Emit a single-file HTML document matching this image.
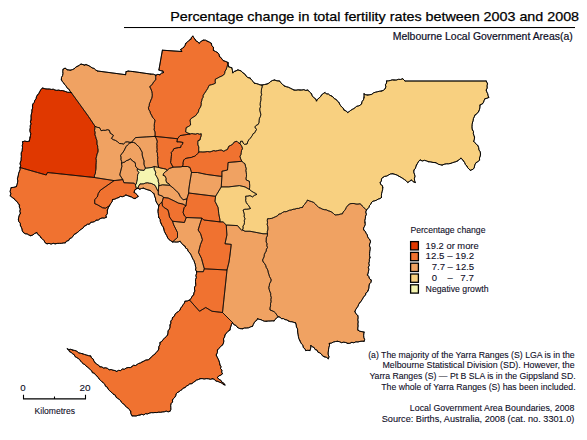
<!DOCTYPE html>
<html><head><meta charset="utf-8">
<style>
html,body{margin:0;padding:0;background:#fff;}
body{width:587px;height:440px;overflow:hidden;}
svg{display:block;}
text{font-family:"Liberation Sans",sans-serif;}
</style></head><body>
<svg width="587" height="440" viewBox="0 0 587 440">
<rect width="587" height="440" fill="#fff"/>
<text x="170.2" y="20.8" font-size="13.6" fill="#000" stroke="#000" stroke-width="0.25" textLength="408.9" lengthAdjust="spacingAndGlyphs">Percentage change in total fertility rates between 2003 and 2008</text>
<rect x="124" y="27" width="451" height="1.05" fill="#000"/>
<text x="392.8" y="40" font-size="10.5" fill="#0d0d26" stroke="#0d0d26" stroke-width="0.2" textLength="179.9" lengthAdjust="spacingAndGlyphs">Melbourne Local Government Areas(a)</text>
<g stroke="none">
<polygon fill="#E03800" points="71.2,92.5 69.37,92.4 67.55,92.28 65.81,91.62 64.06,91.01 62.28,90.56 60.43,90.6 58.67,90.1 56.78,90.38 54.99,90.04 53.28,89.2 51.39,89.44 49.62,89.02 47.78,88.99 45.94,88.92 44.16,88.54 42.4,88 40.94,89.58 39.82,91.41 38.86,93.35 37.5,95 36.43,96.72 36.09,98.78 34.75,100.38 34.3,102.39 32.84,103.94 32.5,106 32.65,108.04 31.87,109.98 31.94,112.01 31.36,113.97 31.01,115.96 31.08,117.99 31,120 30.33,121.91 31.09,123.91 30.21,125.81 30.35,127.77 29.87,129.69 30.03,131.65 30.77,133.64 30.47,135.58 30,137.5 29.4,141 27.14,141.59 24.75,141.07 22.5,141.8 22.75,143.68 22.27,145.48 22.5,147.36 22.29,149.19 22.18,151.03 21.24,152.8 21.22,154.65 21.39,156.52 21.13,158.34 21.14,160.2 20.46,161.99 20.04,163.8 20.68,165.71 20,167.5 37.5,172.5 46.25,175 47.5,172.5 94.4,177.5 94.44,175.36 95.42,173.36 95.56,171.23 95.91,169.13 96,167 96.03,164.85 96.21,162.7 96.3,160.55 96,158.4 96.61,156.27 97.03,154.09 97.95,152.04 98.1,149.8 97.67,147.92 97.69,145.98 96.92,144.15 97,142.2 96.82,140.21 96.08,138.37 95.58,136.46 94.9,134.6 95.13,132.51 94.52,130.42 94.85,128.34 95,126.25 88.4,116.3 79.8,104.4"/>
<polygon fill="#F0A262" points="71.2,92.5 69.91,91.22 69.26,89.45 67.55,88.49 66.6,86.95 65.66,85.41 64.27,84.2 63.45,82.56 62.07,81.35 61.4,79.6 61.49,77.48 62.59,75.52 62.92,73.44 62.74,71.28 63.1,69.2 65.1,68.2 67.2,69.7 70.2,70.2 72.32,69.65 74.3,68.7 75.84,67.05 77.9,66.1 79.47,65.14 81,64.1 83,64.6 84.5,65.1 86,64.6 88.6,65.6 90.42,66.61 92.08,67.89 94.17,68.46 95.69,69.98 97.5,71 125.6,74.7 126.1,71.6 128.2,71.1 130.75,71.33 133.3,71.6 140.4,72.6 150.7,74.1 153.35,74.19 155.8,75.2 155.66,77.5 155.8,79.8 153.85,81.61 152.5,83.9 151.32,85.48 149.7,86.6 150.86,88.9 151.8,91.3 152.21,93.6 152.25,95.9 151.8,98.2 150.87,100.01 150.28,101.94 149.36,103.76 149.23,105.85 148.4,107.7 148.79,109.63 149.94,111.29 150.4,113.2 151.55,115.15 152.5,117.2 153.7,118.65 155,120 154.77,121.87 154.38,123.72 154.24,125.6 154.4,127.5 154.13,129.75 155.03,131.93 155.15,134.15 155,136.4 146.25,136.9 135.5,137.6 131.4,142.4 129.5,142.24 127.62,141.8 125.7,142 123.6,144 121.56,143.63 119.5,143.5 117.58,141.77 115.4,140.4 113.27,139.65 111.4,138.4 112.5,136.91 113.4,135.3 111.91,134.2 110.3,133.3 109.3,130.2 107.3,129.7 105.29,130.4 103.15,130.26 101.1,130.7 99.6,127.7 97.2,127.3 95,126.25 88.4,116.3 79.8,104.4"/>
<polygon fill="#F0A262" points="95,126.25 97.2,127.3 99.6,127.7 101.1,130.7 103.15,130.26 105.29,130.4 107.3,129.7 109.3,130.2 110.3,133.3 111.91,134.2 113.4,135.3 112.5,136.91 111.4,138.4 113.27,139.65 115.4,140.4 117.58,141.77 119.5,143.5 121.56,143.63 123.6,144 125.7,142 127.62,141.8 129.5,142.24 131.4,142.4 129.23,143.37 127.5,145 126.16,146.52 125.2,148.3 124.31,150.24 123.17,152.03 121.86,153.69 120.6,155.4 121.01,157.4 120.91,159.47 121.67,161.43 121.5,163.5 121.9,166.25 120,173.75 119.8,175 122.8,179.6 114.1,180.6 94.4,177.5 94.44,175.36 95.42,173.36 95.56,171.23 95.91,169.13 96,167 96.03,164.85 96.21,162.7 96.3,160.55 96,158.4 96.61,156.27 97.03,154.09 97.95,152.04 98.1,149.8 97.67,147.92 97.69,145.98 96.92,144.15 97,142.2 96.82,140.21 96.08,138.37 95.58,136.46 94.9,134.6 95.13,132.51 94.52,130.42 94.85,128.34"/>
<polygon fill="#F07230" points="20,167.5 37.5,172.5 46.25,175 47.5,172.5 94.4,177.5 114.1,180.6 100.3,190.3 98.3,193.4 97.3,197 94.7,199.5 94.7,203.6 97.3,204.7 102.4,207.7 105.4,208.2 109.5,205.7 108.29,207.82 107.4,210.1 107.38,211.94 107.32,213.77 106,215.41 106.3,217.3 104.32,218.11 102.07,217.98 100.07,218.72 98.25,220.08 96.1,220.3 94.6,221.55 92.76,222.13 90.73,222.32 89.53,224.16 87.45,224.26 85.9,225.4 84.19,226.26 83.16,227.96 81.6,229 80.01,230.01 78.75,231.42 77.29,232.59 75.7,233.6 73.95,234.6 72.96,236.45 71.5,237.79 69.64,238.66 68.7,240.57 66.54,241.12 65.4,242.8 63.36,242.99 61.34,243.37 59.28,243.37 57.22,243.43 55.2,243.8 53.15,243.32 51.1,244.1 49.05,243.37 47,243.8 45.06,242.69 44.05,240.65 42.56,239.09 40.9,237.7 39.85,235.75 37.92,234.5 36.8,232.6 34.69,233.48 32.89,234.98 30.7,235.7 28.86,235.03 27.18,233.95 25.14,233.74 23.5,232.6 22.31,230.98 21.99,228.98 21.27,227.16 20.4,225.4 20.28,223.19 18.71,221.45 18.4,219.3 18.71,217.15 19.35,215.11 20.4,213.2 19.77,211.2 20.34,209.05 19.34,207.09 19.4,205 18.19,203.42 17.16,201.69 15.44,200.54 14.3,198.9 12.18,197.45 10.2,195.8 10.87,193.8 10.12,191.63 10.53,189.6 11.2,187.6 13.84,187.33 16.4,186.6 16.95,184.73 17.48,182.85 17.77,180.92 17.39,178.88 17.87,176.99 18.37,175.1 18.65,173.18 19.42,171.35 20.06,169.49"/>
<polygon fill="#F07230" points="114.1,180.6 100.3,190.3 98.3,193.4 97.3,197 94.7,199.5 94.7,203.6 97.3,204.7 102.4,207.7 105.4,208.2 109.5,205.7 110.61,203.67 112.06,201.82 112.6,199.5 114.74,199.17 116.69,198.25 118.7,197.5 120.35,196.45 122.46,196.7 124.26,196.09 125.9,195 127.94,195.78 130,196.5 131.73,197.1 133.25,198.22 135.1,198.5 136.67,197.53 138.2,196.5 137.15,194.82 135.76,193.47 134.1,192.4 134.8,190 136.4,188.8 135.3,184.5 134.1,183.2 123.9,182.7 122.8,179.6"/>
<polygon fill="#F0A262" points="131.4,142.4 133.47,142.44 135.4,143.2 136.6,144.73 138.07,145.99 139.5,147.3 140.34,149.03 141.34,150.68 142.2,152.4 142.2,155 143,158 144.1,161 143.93,162.85 144.1,164.7 144.69,166.45 145.5,168.1 144.1,170.4 140,170 137.7,168.9 135.5,166.2 135.47,164.33 135.1,162.5 132.5,161 130.6,158.7 128,160.2 126.22,160.72 124.84,162.03 123.06,162.54 121.5,163.5 121.67,161.43 120.91,159.47 121.01,157.4 120.6,155.4 121.86,153.69 123.17,152.03 124.31,150.24 125.2,148.3 126.16,146.52 127.5,145 129.23,143.37"/>
<polygon fill="#F0A262" points="121.5,163.5 123.06,162.54 124.84,162.03 126.22,160.72 128,160.2 130.6,158.7 132.5,161 135.1,162.5 135.47,164.33 135.5,166.2 137.7,168.9 137,170 138.9,172.6 137.7,174.5 137.46,176.74 137.4,179 136.77,181.59 136.2,184.2 135.3,184.5 134.1,183.2 123.9,182.7 122.8,179.6 119.8,175 120,173.75 121.9,166.25"/>
<polygon fill="#F0A262" points="155,136.4 146.25,136.9 135.5,137.6 131.4,142.4 133.47,142.44 135.4,143.2 136.6,144.73 138.07,145.99 139.5,147.3 140.34,149.03 141.34,150.68 142.2,152.4 142.2,155 143,158 144.1,161 143.93,162.85 144.1,164.7 144.69,166.45 145.5,168.1 146.7,168.1 152,167.4 154.2,166.5 158.7,167.4 158,164.7 157.72,162.11 157.6,159.5 157.81,157.43 157.4,155.4 157.49,153.36 156.75,151.37 157.18,149.32 156.9,147.3 157,145.5 156.79,143.7 157.31,141.9 156.9,140.1 156.11,138.17"/>
<polygon fill="#F5F5B0" points="137.7,168.9 140,170 144.1,170.4 145.5,168.1 146.7,168.1 152,167.4 154.2,166.5 154.2,169.2 155.7,172.2 155.4,174.5 157.2,177.5 158.15,179.44 158.3,181.6 158.88,183.66 158.7,185.8 158.3,191.4 156.9,189.1 156.03,187.16 155,185.3 153.12,184.31 151.2,183.4 149.34,183.23 147.49,182.78 145.6,183 143.8,183.74 141.92,183.91 140,183.9 138.73,185.96 137.8,188.2 136.4,188.8 135.3,184.5 136.2,184.2 136.77,181.59 137.4,179 137.46,176.74 137.7,174.5 138.9,172.6 137,170"/>
<polygon fill="#F8D080" points="154.2,166.5 158.7,167.4 161,168.1 163.2,168.5 166.2,169.2 167.2,170.3 165.35,171.74 163.7,173.4 163,175.3 164.9,175.9 166.1,178.3 165.97,180.51 166.7,182.6 169,183.8 169.8,185.3 162.5,184.8 158.7,185.8 158.88,183.66 158.3,181.6 158.15,179.44 157.2,177.5 155.4,174.5 155.7,172.2 154.2,169.2"/>
<polygon fill="#F0A262" points="140,183.9 141.92,183.91 143.8,183.74 145.6,183 147.49,182.78 149.34,183.23 151.2,183.4 153.12,184.31 155,185.3 156.03,187.16 156.9,189.1 158.3,191.4 158.3,194.7 162.5,196.1 163.4,197.5 162,202.2 159.7,204 158.7,205.9 157.57,204.04 156.4,202.2 155.67,200.37 155.5,198.4 154.58,196.1 154,193.7 152.02,192.25 150.3,190.5 147.98,189.9 145.71,189.15 143.5,188.2 141.59,188.46 139.8,189.2 137.8,188.2 138.73,185.96"/>
<polygon fill="#F0A262" points="158.7,185.8 162.5,184.8 169.8,185.3 173.2,188 176.5,191.2 178.4,192.8 180.3,196.6 183.1,199.8 186.9,198.9 185.9,205.9 183.1,204.1 178.4,203.1 174.7,201.2 168.1,198 163.4,197.5 162.5,196.1 158.3,194.7 158.3,191.4"/>
<polygon fill="#F07230" points="155,136.4 166,137.5 177.5,138.75 176.9,141.9 178.96,141.8 180.99,142.06 183,142.5 182.43,144.28 181.07,145.68 180.6,147.5 178.27,147.63 176,148.13 173.75,148.75 172.81,150.83 171.25,152.5 171.54,154.53 171.31,156.52 171.08,158.51 170.82,160.51 170.6,162.5 171.9,165 173.1,167.2 169.2,168.5 167.2,170.3 166.2,169.2 163.2,168.5 161,168.1 158.7,167.4 158,164.7 157.72,162.11 157.6,159.5 157.81,157.43 157.4,155.4 157.49,153.36 156.75,151.37 157.18,149.32 156.9,147.3 157,145.5 156.79,143.7 157.31,141.9 156.9,140.1 156.11,138.17"/>
<polygon fill="#F07230" points="155.8,75.2 157.78,74.36 159.9,74.7 161.43,73.18 163.5,72.6 162.9,71.1 160.85,70.74 158.9,70 162.4,50.2 181.7,51.5 180.7,49.4 182.23,48.44 183.7,47.4 185.01,45.48 185.8,43.3 187.52,41.96 189.01,40.34 190.9,39.2 191.43,37.35 192.9,36.1 193.81,37.75 195,39.2 195.97,40.96 197.86,41.81 199.1,43.3 200.95,41.49 203.2,40.2 205.38,40.15 207.3,41.2 209.37,42.11 211.3,43.3 211.83,45.61 213.4,47.4 213.4,50.4 215.46,51.44 217.5,52.5 219.01,54.3 219.5,56.6 221.12,57.71 222.11,59.45 223.6,60.7 225.83,61.52 228,62.5 227.65,64.29 227.3,66.07 226.7,67.8 226.08,69.67 224.97,71.32 224.7,73.34 223.6,75 221.62,76.14 219.5,77 217.51,78.16 215.4,79.1 215.18,81.15 215.4,83.2 213.45,84.12 211.39,84.72 209.3,85.2 208.37,86.95 207.56,88.77 206.44,90.41 205.38,92.09 204.24,93.72 203.2,95.4 203.13,97.25 202.12,98.87 201.76,100.64 201.19,102.37 201.27,104.26 200.89,106.03 200.1,107.7 198.83,109.61 198.4,111.95 197,113.8 195.55,115.73 193.5,117 191.52,118.23 190,120 190.41,122.49 190.6,125 188.54,126.46 186.25,127.5 185.89,129.69 185.6,131.9 187.79,132.97 190,134 180,135.6 177.5,138.75 166,137.5 155,136.4 155.15,134.15 155.03,131.93 154.13,129.75 154.4,127.5 154.24,125.6 154.38,123.72 154.77,121.87 155,120 153.7,118.65 152.5,117.2 151.55,115.15 150.4,113.2 149.94,111.29 148.79,109.63 148.4,107.7 149.23,105.85 149.36,103.76 150.28,101.94 150.87,100.01 151.8,98.2 152.25,95.9 152.21,93.6 151.8,91.3 150.86,88.9 149.7,86.6 151.32,85.48 152.5,83.9 153.85,81.61 155.8,79.8 155.66,77.5"/>
<polygon fill="#F07230" points="177.5,138.75 180,135.6 190,134 191.87,133.55 193.75,133.89 195.63,134.11 197.49,133.5 199.38,134.22 201.25,133.75 201.16,135.9 200.41,137.92 200,140 198,140.6 197.81,142.75 197.89,144.89 198.81,146.96 198.68,149.11 198.75,151.25 198.75,152 197.65,153.62 196.25,155 194.78,156.23 192.93,156.7 191.25,157.5 189.12,157.7 187.03,158.08 185,158.75 183.75,160 183.1,162.5 183.03,164.54 182.5,166.5 180.6,166.9 173.1,167.2 171.9,165 170.6,162.5 170.82,160.51 171.08,158.51 171.31,156.52 171.54,154.53 171.25,152.5 172.81,150.83 173.75,148.75 176,148.13 178.27,147.63 180.6,147.5 181.07,145.68 182.43,144.28 183,142.5 180.99,142.06 178.96,141.8 176.9,141.9"/>
<polygon fill="#F8D080" points="228,62.5 228.24,64.67 228.7,66.8 231.8,67.8 232.42,70.33 232.8,72.9 234.08,71.48 235.9,70.9 237.9,69.9 241,70.9 243,72.9 244.9,74.1 246.1,76 247.88,77.57 250.2,78.1 251.46,79.89 253.05,81.4 254.3,83.2 256.25,83.56 258.15,84.09 260,84.86 262,85 262.24,86.98 261.52,88.89 261.36,90.84 261.22,92.79 261.67,94.78 260.76,96.67 260.98,98.65 260.8,100.6 260.34,102.62 260.17,104.66 260.55,106.75 259.73,108.73 259.9,110.8 260.8,114.2 260.51,116.3 259.48,118.21 259.17,120.3 259.04,122.44 258.2,124.4 256.23,125.34 254.8,127 256.5,129.5 255.56,131.08 254.76,132.75 253.03,133.77 252.3,135.5 251.24,136.96 250.18,138.42 248.9,139.7 247.73,141.74 247.1,144 244.4,144.4 243.09,143.04 242.5,141.25 240.6,141.25 240,143.75 238.3,142.68 236.9,141.25 234.4,141.9 232.5,144.4 230.66,145.39 228.75,146.25 227.5,149.4 225.57,150.22 223.75,151.25 221.25,150 219.36,150.23 217.5,150.6 215.62,151.03 213.75,150.6 211.88,151.28 210,151.9 207.5,151.54 205,151.9 202.92,152.01 200.83,151.89 198.75,152 198.75,151.25 198.68,149.11 198.81,146.96 197.89,144.89 197.81,142.75 198,140.6 200,140 200.41,137.92 201.16,135.9 201.25,133.75 199.38,134.22 197.49,133.5 195.63,134.11 193.75,133.89 191.87,133.55 190,134 187.79,132.97 185.6,131.9 185.89,129.69 186.25,127.5 188.54,126.46 190.6,125 190.41,122.49 190,120 191.52,118.23 193.5,117 195.55,115.73 197,113.8 198.4,111.95 198.83,109.61 200.1,107.7 200.89,106.03 201.27,104.26 201.19,102.37 201.76,100.64 202.12,98.87 203.13,97.25 203.2,95.4 204.24,93.72 205.38,92.09 206.44,90.41 207.56,88.77 208.37,86.95 209.3,85.2 211.39,84.72 213.45,84.12 215.4,83.2 215.18,81.15 215.4,79.1 217.51,78.16 219.5,77 221.62,76.14 223.6,75 224.7,73.34 224.97,71.32 226.08,69.67 226.7,67.8 227.3,66.07 227.65,64.29"/>
<polygon fill="#F07230" points="198.75,152 200.83,151.89 202.92,152.01 205,151.9 207.5,151.54 210,151.9 211.88,151.28 213.75,150.6 215.62,151.03 217.5,150.6 219.36,150.23 221.25,150 223.75,151.25 225.57,150.22 227.5,149.4 228.75,146.25 230.66,145.39 232.5,144.4 234.4,141.9 236.9,141.25 238.3,142.68 240,143.75 241.16,145.25 242.01,146.91 242.5,148.75 241.52,150.51 241.25,152.5 240.96,154.49 240,156.25 240.66,158.86 241.9,161.25 235,161.9 228.1,162.5 227.5,170 221.9,171.25 221.9,176.25 220,176.25 206.25,174.4 197.5,172.5 191.5,172.5 190,167.5 187.5,166.5 182.5,166.5 183.03,164.54 183.1,162.5 183.75,160 185,158.75 187.03,158.08 189.12,157.7 191.25,157.5 192.93,156.7 194.78,156.23 196.25,155 197.65,153.62"/>
<polygon fill="#F0A262" points="241.9,161.25 243.36,162.61 245,163.75 245.51,166.28 246.25,168.75 245.89,170.62 246.27,172.5 246.47,174.38 246.49,176.25 246.03,178.12 246.25,180 249.4,181.25 249.52,183.29 249.7,185.32 249.63,187.36 249.4,189.4 245,186.9 239.4,185.6 228.75,186.9 221.25,186.9 221.9,176.25 221.9,171.25 227.5,170 228.1,162.5 235,161.9"/>
<polygon fill="#F0A262" points="191.5,172.5 197.5,172.5 206.25,174.4 220,176.25 221.9,176.25 221.25,186.9 219.4,190 215.6,196.25 215,196.25 188.7,193 188.7,190 190,181.25"/>
<polygon fill="#F0A262" points="173.1,167.2 180.6,166.9 182.5,166.5 187.5,166.5 190,167.5 191.5,172.5 190,181.25 188.7,190 188.7,193 186.9,198.9 183.1,199.8 180.3,196.6 178.4,192.8 176.5,191.2 173.2,188 169.8,185.3 169,183.8 166.7,182.6 165.97,180.51 166.1,178.3 164.9,175.9 163,175.3 163.7,173.4 165.35,171.74 167.2,170.3 169.2,168.5"/>
<polygon fill="#F07230" points="163.4,197.5 168.1,198 174.7,201.2 178.4,203.1 183.1,204.1 185.9,205.9 184,207.8 183.1,212.5 184.5,216 186.25,217.5 184.4,222.5 172.5,221.25 169.5,217 168.8,213 167.8,209.7 164.4,207.8 162.5,205.9 162,202.2"/>
<polygon fill="#F07230" points="158.7,205.9 159.7,204 162,202.2 162.5,205.9 164.4,207.8 167.8,209.7 168.8,213 169.5,217 172.5,221.25 173.75,225 177.5,232.5 177.5,237.5 172.5,241.9 170.61,240.68 168.79,239.4 167.5,237.5 166.68,235.56 165.6,233.75 164.36,231.37 163.75,228.75 163.2,226.94 162,225.46 161.25,223.75 160.33,221.7 160.12,219.37 158.75,217.5 158.51,215.63 158.33,213.76 157.98,211.9 158.1,210 158.44,207.96"/>
<polygon fill="#F0A262" points="172.5,221.25 184.4,222.5 186.25,217.5 201.9,218.1 200,223.75 198.1,230 200.6,233.75 202.4,239.8 200.4,244.7 198.5,252.4 201.4,258.2 204.3,268.8 203.3,271.7 196.6,271.7 195.6,269.7 195.89,267.81 195.43,266.04 195.22,264.23 194.5,262.5 193.98,260.68 192.92,259.12 192.16,257.42 191.42,255.71 190.57,254.05 189.5,252.5 188.01,251.2 187.59,249.13 185.68,248.14 185,246.25 183.01,244.91 181.48,243.1 180,241.25 178.17,241.96 176.3,242.1 174.39,241.96 172.5,241.9 177.5,237.5 177.5,232.5 173.75,225"/>
<polygon fill="#F07230" points="201.9,218.1 203.75,220 220,221.9 223.1,221.9 226.25,225 226.9,235 225,243.75 231.25,244.4 230,255 229,262 227,270 204.3,268.8 201.4,258.2 198.5,252.4 200.4,244.7 202.4,239.8 200.6,233.75 198.1,230 200,223.75"/>
<polygon fill="#F07230" points="186.9,198.9 188.7,193 215,196.25 215.6,196.25 215,201.25 218.1,207.5 218.75,213.75 220,220 220,221.9 203.75,220 201.9,218.1 186.25,217.5 184.5,216 183.1,212.5 184,207.8 185.9,205.9"/>
<polygon fill="#F8D080" points="221.25,186.9 228.75,186.9 239.4,185.6 245,186.9 249.4,189.4 251.47,191.1 253.75,192.5 255.42,193.29 256.9,194.4 254.51,195.31 252.5,196.9 250,195.6 247.83,196.1 245.6,196.25 245.84,198.33 245.64,200.46 246.25,202.5 247.23,204.06 248.56,205.37 249.47,206.98 250.5,208.5 248.67,209 246.8,209.24 244.87,209.22 243.1,210 243.71,212.16 244.33,214.32 244.14,216.65 245,218.75 244.3,220.56 244.48,222.57 244.11,224.46 242.97,226.17 243.17,228.18 242.5,230 241.9,230.6 237.5,225.6 226.25,225 223.1,221.9 220,221.9 220,220 218.75,213.75 218.1,207.5 215,201.25 215.6,196.25 219.4,190"/>
<polygon fill="#F8D080" points="262,85 264.51,84.55 267,84 268.95,83.13 270.54,81.61 272.37,80.53 274.5,80 276.94,80.81 279.5,81 280.99,82.84 282.6,84.57 284.5,86 286.43,86.73 288.45,87.25 290.3,88.16 292.14,89.09 294,90 296,90.19 298,89.82 300,90 301.94,90.01 303.88,89.65 305.81,90.47 307.75,90 309.54,91.96 311.5,93.75 312.28,95.89 313.7,97.58 315.69,98.89 316.5,101 317.49,99.29 319.04,98.03 320.5,96.71 321.5,95 323.17,93.64 325,92.5 326.34,93.9 328.39,93.98 329.82,95.24 331.5,96 333.18,97.09 334.4,98.71 336.34,99.51 337.46,101.24 339,102.5 339.69,104.2 340.7,105.7 341.82,107.12 343.33,108.28 344,110 346.06,110.98 347.75,112.5 349.28,111.53 350.7,110.39 352.22,109.4 353.84,108.58 355.29,107.48 356.69,106.31 358.56,105.88 360.29,105.21 361.5,103.75 362.07,101.56 363.47,99.71 364,97.5 364.05,95.62 364,93.75 365.74,94.78 367.75,95 369.8,94.73 371.81,94.32 373.52,92.86 375.46,92.22 377.45,91.72 379.45,91.28 381.5,91 383.55,90.34 385,88.75 385.89,86.91 385.39,84.8 386.61,83.03 386.5,81 388.39,80.84 390.25,80.53 392.07,79.85 394,80 396.24,80.06 398.37,79.32 400.62,79.44 402.75,78.75 405,81 486.25,81 487.5,83.75 487.07,85.83 487.22,88.03 486.25,90 486.75,91.92 487.69,93.69 488.07,95.64 488.75,97.5 486.92,98.27 485,98.75 484.11,100.39 483.57,102.2 482.5,103.75 480,105 479.93,107.15 479.55,109.24 478.75,111.25 477.21,113.46 475,115 474.27,116.84 473.4,118.63 473.16,120.64 472.5,122.5 472.17,124.38 472.04,126.25 472.06,128.12 472.5,130 473.52,131.6 473.34,133.55 473.85,135.29 474.5,137 474.39,139.2 473.7,141.3 475.06,142.78 476.32,144.34 477.9,145.6 478.67,147.66 478.91,149.89 480.24,151.78 480.5,154 480.31,156.02 479.47,157.94 479.6,160 478.07,161.52 476.2,162.6 475.11,164.18 474.54,166.02 474.18,167.97 472.8,169.4 470.3,170.3 468.94,169.02 467.67,167.67 466.8,166 465.39,164.48 464.62,162.54 463.4,160.9 462.4,159.36 460.9,158.3 459.23,159.64 457.5,160.9 455.86,161.69 454.11,162.19 452.39,162.74 450.7,163.4 448.55,163.8 446.31,163.81 444.17,164.27 442.1,165.1 440.32,164.69 438.53,164.32 436.97,163.3 435.3,162.6 433.01,162.45 430.78,161.93 428.5,161.7 426.51,160.91 424.48,160.34 422.2,160.97 420.25,160 418.58,161.35 417.6,163.22 416.5,165 415.9,166.78 415.27,168.55 414,170 413.72,172.13 414.45,174.16 415.02,176.21 414.42,178.37 414.59,180.46 415.25,182.5 413.07,181.7 411.5,180 409.63,181.26 407.75,182.5 406.27,180.87 404.52,179.62 402.74,178.42 400.92,177.26 399,176.25 397.06,175.07 394.93,174.35 392.75,173.75 390.54,173.95 388.65,174.98 386.78,176.07 384.62,176.39 382.75,177.5 381.45,178.93 381.38,180.98 380.25,182.5 380.58,184.42 382.41,185.59 382.75,187.5 382.63,189.52 382.16,191.49 381.62,193.45 381.41,195.46 381.5,197.5 379.96,198.58 378.14,199.12 376.57,200.14 374.82,200.8 372.93,201.19 371.5,202.5 370.78,204.19 369.52,205.52 368.97,207.31 367.84,208.73 366.5,210 365.24,208.71 363.77,207.64 362.49,206.36 361.46,204.83 360,203.75 358,204.1 356,204.06 354,203.51 352,203.49 350,203.75 347.83,205.33 346.25,207.5 345.52,209.19 344.43,210.66 343.14,212.01 342.5,213.75 340.62,214.02 338.79,214.64 336.89,214.8 335,215 333.51,213.51 331.88,212.21 330,211.25 328.09,210.72 326.32,209.8 324.28,209.65 322.38,209.11 320.61,208.18 318.75,207.5 317.08,205.84 315.48,204.1 313.75,202.5 311.68,201.64 309.52,200.99 307.5,200 306.67,201.61 305.55,203.03 304.52,204.51 303.2,205.8 302.5,207.5 300.55,207.58 298.78,208.45 296.8,208.41 294.99,209.13 293.06,209.29 291.25,210 289.43,210.25 287.75,210.99 286.07,211.74 284.15,211.67 282.5,212.5 280.86,213.7 278.79,214.12 277.46,215.86 275.6,216.68 273.75,217.5 271.75,218.36 269.64,218.63 267.5,218.75 267.29,220.62 267.56,222.5 267.14,224.38 267.72,226.25 267.9,228.12 267.79,230 267.2,231.88 267.5,233.75 263,233.75 250,231.25 245,231.25 242.5,230 243.17,228.18 242.97,226.17 244.11,224.46 244.48,222.57 244.3,220.56 245,218.75 244.14,216.65 244.33,214.32 243.71,212.16 243.1,210 244.87,209.22 246.8,209.24 248.67,209 250.5,208.5 249.47,206.98 248.56,205.37 247.23,204.06 246.25,202.5 245.64,200.46 245.84,198.33 245.6,196.25 247.83,196.1 250,195.6 252.5,196.9 254.51,195.31 256.9,194.4 255.42,193.29 253.75,192.5 251.47,191.1 249.4,189.4 249.63,187.36 249.7,185.32 249.52,183.29 249.4,181.25 246.25,180 246.03,178.12 246.49,176.25 246.47,174.38 246.27,172.5 245.89,170.62 246.25,168.75 245.51,166.28 245,163.75 243.36,162.61 241.9,161.25 240.66,158.86 240,156.25 240.96,154.49 241.25,152.5 241.52,150.51 242.5,148.75 242.01,146.91 241.16,145.25 240,143.75 240.6,141.25 242.5,141.25 243.09,143.04 244.4,144.4 247.1,144 247.73,141.74 248.9,139.7 250.18,138.42 251.24,136.96 252.3,135.5 253.03,133.77 254.76,132.75 255.56,131.08 256.5,129.5 254.8,127 256.23,125.34 258.2,124.4 259.04,122.44 259.17,120.3 259.48,118.21 260.51,116.3 260.8,114.2 259.9,110.8 259.73,108.73 260.55,106.75 260.17,104.66 260.34,102.62 260.8,100.6 260.98,98.65 260.76,96.67 261.67,94.78 261.22,92.79 261.36,90.84 261.52,88.89 262.24,86.98"/>
<polygon fill="#F0A262" points="242.5,230 245,231.25 250,231.25 263,233.75 267.5,233.75 267.34,235.88 266.28,237.84 266.25,240 266.15,241.94 267.04,243.72 266.8,245.69 267.5,247.5 266.41,249.13 266.21,251.13 265.16,252.78 264.33,254.52 264.15,256.52 263.41,258.29 262.5,260 263.22,261.99 264.65,263.61 265.68,265.44 266.25,267.5 267.33,269.14 268.01,270.94 268.35,272.87 268.99,274.69 269.5,276.56 270.48,278.24 271.25,280 270.64,281.88 269.59,283.61 269.32,285.61 268.75,287.5 269.19,289.51 269.82,291.48 270.66,293.4 270.65,295.53 271.25,297.5 270.87,299.57 271.1,301.69 270.49,303.74 270.58,305.85 270,307.9 270,310 272.09,310.76 274.1,311.7 275.7,313.21 276.88,315.06 278.2,316.8 276.56,317.89 275.34,319.4 274.1,320.9 272.13,320.83 270.17,321.02 268.21,321.04 266.25,321.25 264.38,321.18 262.66,320.58 261.02,319.67 259.22,319.35 257.5,318.75 256.73,320.4 255.06,321.45 254.07,322.96 253.28,324.6 252.5,326.25 250.54,326.89 248.63,327.77 246.56,328 244.44,328.02 242.5,328.75 239.88,328.61 237.5,327.5 236.12,325.55 233.76,324.58 232.5,322.5 222.5,312.5 227,270 229,262 230,255 231.25,244.4 225,243.75 226.9,235 226.25,225 237.5,225.6 241.9,230.6"/>
<polygon fill="#F0A262" points="267.5,218.75 269.64,218.63 271.75,218.36 273.75,217.5 275.6,216.68 277.46,215.86 278.79,214.12 280.86,213.7 282.5,212.5 284.15,211.67 286.07,211.74 287.75,210.99 289.43,210.25 291.25,210 293.06,209.29 294.99,209.13 296.8,208.41 298.78,208.45 300.55,207.58 302.5,207.5 303.2,205.8 304.52,204.51 305.55,203.03 306.67,201.61 307.5,200 309.52,200.99 311.68,201.64 313.75,202.5 315.48,204.1 317.08,205.84 318.75,207.5 320.61,208.18 322.38,209.11 324.28,209.65 326.32,209.8 328.09,210.72 330,211.25 331.88,212.21 333.51,213.51 335,215 336.89,214.8 338.79,214.64 340.62,214.02 342.5,213.75 343.14,212.01 344.43,210.66 345.52,209.19 346.25,207.5 347.83,205.33 350,203.75 352,203.49 354,203.51 356,204.06 358,204.1 360,203.75 361.46,204.83 362.49,206.36 363.77,207.64 365.24,208.71 366.5,210 365.68,212.01 366.43,214.22 365.5,216.22 365.38,218.32 364.82,220.37 365,222.5 365.24,224.47 364.56,226.28 363.53,228.04 363.75,230 365.29,231.35 366.07,233.19 367.24,234.77 367.66,236.83 368.72,238.48 370,240 370.59,241.94 369.66,243.89 369.45,245.83 370.25,247.78 370.1,249.72 369.74,251.67 369.58,253.61 369.57,255.56 370,257.5 369.36,259.39 369.39,261.38 368.8,263.28 369.35,265.34 368.3,267.18 368.87,269.24 368.51,271.18 368.15,273.11 367.5,275 368.85,276.58 369.49,278.69 371.2,280 371.1,282.19 369.45,283.92 369.03,286.01 368.85,288.18 368.2,290.2 367.46,291.93 365.81,293.05 365.57,295.11 364.02,296.29 363.1,297.9 362.19,299.52 361.21,301.09 360,302.5 358.74,304.21 358,306.2 356.79,307.94 355.6,309.68 354.9,311.7 356.17,313.92 357.9,315.8 358.12,317.84 357.77,319.89 358.19,321.93 357.89,323.97 358.08,326.01 357.75,328.06 357.9,330.1 359.81,331.25 361.96,331.67 364.1,332.1 363.75,333.94 363.67,335.78 363.86,337.62 364.62,339.46 364.1,341.3 362.03,341.2 359.98,341.43 357.96,341.98 355.88,341.82 353.9,342.78 351.8,342.4 349.85,343.32 347.7,343.4 345.75,342.53 343.69,342.2 341.47,342.67 339.54,341.72 337.5,341.3 335.38,341.55 333.33,342.08 331.41,343.12 329.3,343.4 329.55,345.34 328.9,347.22 328.59,349.12 328.4,351.02 328.13,352.93 328.28,354.86 329.02,356.83 328.3,358.7 326.43,357.33 324.2,356.7 322.46,355.75 321.36,354.05 319.8,352.89 317.9,352.13 317.06,350.13 315.04,349.51 314.17,347.54 312.25,346.81 310.9,345.4 310.73,348.06 309.9,350.6 307.85,350.31 305.8,350.6 304.91,348.81 303.27,347.46 302.97,345.32 301.51,343.87 300.5,342.14 299.7,340.3 298.83,338.56 298.44,336.72 298.13,334.85 297.78,333 297.6,331.1 297.6,328.93 296.43,327.04 296.22,324.92 295.6,322.9 293.81,322.37 292.04,321.76 290.14,321.61 288.4,320.9 286.82,319.92 284.97,319.61 283.41,318.58 281.39,318.69 280.05,317.11 278.2,316.8 276.88,315.06 275.7,313.21 274.1,311.7 272.09,310.76 270,310 270,307.9 270.58,305.85 270.49,303.74 271.1,301.69 270.87,299.57 271.25,297.5 270.65,295.53 270.66,293.4 269.82,291.48 269.19,289.51 268.75,287.5 269.32,285.61 269.59,283.61 270.64,281.88 271.25,280 270.48,278.24 269.5,276.56 268.99,274.69 268.35,272.87 268.01,270.94 267.33,269.14 266.25,267.5 265.68,265.44 264.65,263.61 263.22,261.99 262.5,260 263.41,258.29 264.15,256.52 264.33,254.52 265.16,252.78 266.21,251.13 266.41,249.13 267.5,247.5 266.8,245.69 267.04,243.72 266.15,241.94 266.25,240 266.28,237.84 267.34,235.88 267.5,233.75 267.2,231.88 267.79,230 267.9,228.12 267.72,226.25 267.14,224.38 267.56,222.5 267.29,220.62"/>
<polygon fill="#F07230" points="196.6,271.7 203.3,271.7 204.3,268.8 227,270 222.5,312.5 212,311.25 205.75,307.5 199.5,311.25 189.5,300 191.15,298.47 192,296.29 193.7,294.8 193.88,292.86 194.86,291.05 194.47,289.02 194.58,287.07 195.78,285.3 195.6,283.3 195.52,281.35 195.57,279.4 196.35,277.52 195.85,275.53 196.52,273.64"/>
<polygon fill="#F07230" points="189.5,300 199.5,311.25 205.75,307.5 212,311.25 222.5,312.5 232.5,322.5 231.55,324.27 230.95,326.15 230.3,328.02 230,330 227.97,331.3 226.43,333.1 225,335 224.58,337.02 223.46,338.87 223.82,341.08 223.45,343.11 222.5,345 220.6,346.43 219.12,348.28 217.5,350 217.35,352.62 216.25,355 217.09,356.97 218.1,358.87 218.98,360.82 219.59,362.87 220,365 221.02,366.6 220.5,368.64 222.02,370.1 221.61,372.11 222.5,373.75 220.92,375.12 218.85,375.83 217.5,377.5 218.79,379.21 220.79,380.21 221.9,382.1 223.83,383.17 225,385 223.06,384.42 221.6,382.88 219.66,382.3 217.88,381.38 215.8,381.07 214.44,379.34 212.5,378.75 210.42,379.29 208.33,378.76 206.25,378.64 204.17,379 202.08,378.57 200,378.75 198.33,379.58 196.5,380.09 195,381.25 193.42,382.43 191.86,383.64 189.71,383.91 188.2,385.2 186.47,386.14 185,387.5 183.25,388.13 182.07,389.6 180.49,390.48 179.11,391.67 177.5,392.5 176.16,393.77 175.76,395.68 174.88,397.25 173.48,398.49 172.5,400 172.6,401.99 171.09,403.62 170.68,405.5 170.8,407.49 170.84,409.47 170,411.25 168.16,411.84 166.21,411.12 164.38,411.75 162.51,411.94 160.65,412.3 158.75,412.17 156.89,412.57 155,412.5 153.11,412.73 151.16,412.61 149.33,413.16 147.53,413.94 145.56,413.67 143.84,414.94 141.81,414.29 140,415 138.04,415.32 136.11,415.99 134.11,415.95 132.1,415.9 130.89,413.75 130.6,411.3 129.53,409.77 128.39,408.31 126.7,407.4 125.43,406.07 124.4,404.5 122.76,403.54 121.43,402.27 120.55,400.55 119.15,399.35 117.57,398.33 116.06,397.24 115.42,395.28 113.7,394.4 112.25,393.12 110.86,391.79 109.4,390.52 108.12,389.09 107.32,387.21 105.52,386.26 104.81,384.3 103.43,382.95 101.9,381.76 100.57,380.36 99.14,379.07 98.18,377.34 96.8,376 95.43,374.79 94.38,373.24 92.38,372.71 91.68,370.76 90.27,369.61 88.95,368.34 87.55,367.16 86.05,366.1 84.95,364.59 83.2,363.79 81.89,362.52 80.68,361.13 79.66,359.54 78.18,358.45 76.6,357.47 74.97,356.54 74.23,354.65 72.5,353.84 71.33,352.41 69.5,351.7 68.71,349.86 67.2,348.8 68.89,349.53 70.8,349.3 72.5,350 74.61,350.46 76.68,351.01 78.32,352.72 80.41,353.24 82.5,353.75 84.51,354.44 86.55,355.06 88.59,355.67 90.7,356 91.46,357.84 93.21,359.01 93.83,360.94 95,362.5 96.49,364.1 98.5,365.1 99.9,366.8 101.88,366.9 103.57,368.05 105.65,367.79 107.49,368.39 109.11,369.81 111.18,369.56 113.01,370.21 114.93,370.54 116.7,371.4 118.49,370.39 120.65,370.57 122.26,369 124.44,369.24 126.17,368.04 128.1,367.48 130.25,367.61 132,366.5 133.46,365.29 135.57,365.53 137.1,364.48 138.65,363.47 140.42,362.94 142,362 143.97,361.07 145.89,360 148.21,359.84 150,358.5 151.44,356.75 153.19,355.34 155,354 156.29,352.36 157.75,350.85 158.75,349 158.76,346.76 159.92,344.73 160,342.5 161.9,341.4 163.03,339.53 164.6,338.1 166.21,336.71 167.5,335 167.96,332.99 168.02,330.88 169.41,329.1 170.04,327.14 170,325 170.87,323.21 170.73,321.08 172.15,319.47 172.5,317.5 174.29,316.29 175.13,314.13 176.58,312.58 178.47,311.47 180,310 180.71,308.08 182.02,306.51 183.05,304.78 184.33,303.19 185,301.25 187.34,300.95"/>
</g>
<g fill="none" stroke="#000" stroke-width="0.65" stroke-linejoin="round">
<polygon points="71.2,92.5 69.37,92.4 67.55,92.28 65.81,91.62 64.06,91.01 62.28,90.56 60.43,90.6 58.67,90.1 56.78,90.38 54.99,90.04 53.28,89.2 51.39,89.44 49.62,89.02 47.78,88.99 45.94,88.92 44.16,88.54 42.4,88 40.94,89.58 39.82,91.41 38.86,93.35 37.5,95 36.43,96.72 36.09,98.78 34.75,100.38 34.3,102.39 32.84,103.94 32.5,106 32.65,108.04 31.87,109.98 31.94,112.01 31.36,113.97 31.01,115.96 31.08,117.99 31,120 30.33,121.91 31.09,123.91 30.21,125.81 30.35,127.77 29.87,129.69 30.03,131.65 30.77,133.64 30.47,135.58 30,137.5 29.4,141 27.14,141.59 24.75,141.07 22.5,141.8 22.75,143.68 22.27,145.48 22.5,147.36 22.29,149.19 22.18,151.03 21.24,152.8 21.22,154.65 21.39,156.52 21.13,158.34 21.14,160.2 20.46,161.99 20.04,163.8 20.68,165.71 20,167.5 37.5,172.5 46.25,175 47.5,172.5 94.4,177.5 94.44,175.36 95.42,173.36 95.56,171.23 95.91,169.13 96,167 96.03,164.85 96.21,162.7 96.3,160.55 96,158.4 96.61,156.27 97.03,154.09 97.95,152.04 98.1,149.8 97.67,147.92 97.69,145.98 96.92,144.15 97,142.2 96.82,140.21 96.08,138.37 95.58,136.46 94.9,134.6 95.13,132.51 94.52,130.42 94.85,128.34 95,126.25 88.4,116.3 79.8,104.4"/>
<polygon points="71.2,92.5 69.91,91.22 69.26,89.45 67.55,88.49 66.6,86.95 65.66,85.41 64.27,84.2 63.45,82.56 62.07,81.35 61.4,79.6 61.49,77.48 62.59,75.52 62.92,73.44 62.74,71.28 63.1,69.2 65.1,68.2 67.2,69.7 70.2,70.2 72.32,69.65 74.3,68.7 75.84,67.05 77.9,66.1 79.47,65.14 81,64.1 83,64.6 84.5,65.1 86,64.6 88.6,65.6 90.42,66.61 92.08,67.89 94.17,68.46 95.69,69.98 97.5,71 125.6,74.7 126.1,71.6 128.2,71.1 130.75,71.33 133.3,71.6 140.4,72.6 150.7,74.1 153.35,74.19 155.8,75.2 155.66,77.5 155.8,79.8 153.85,81.61 152.5,83.9 151.32,85.48 149.7,86.6 150.86,88.9 151.8,91.3 152.21,93.6 152.25,95.9 151.8,98.2 150.87,100.01 150.28,101.94 149.36,103.76 149.23,105.85 148.4,107.7 148.79,109.63 149.94,111.29 150.4,113.2 151.55,115.15 152.5,117.2 153.7,118.65 155,120 154.77,121.87 154.38,123.72 154.24,125.6 154.4,127.5 154.13,129.75 155.03,131.93 155.15,134.15 155,136.4 146.25,136.9 135.5,137.6 131.4,142.4 129.5,142.24 127.62,141.8 125.7,142 123.6,144 121.56,143.63 119.5,143.5 117.58,141.77 115.4,140.4 113.27,139.65 111.4,138.4 112.5,136.91 113.4,135.3 111.91,134.2 110.3,133.3 109.3,130.2 107.3,129.7 105.29,130.4 103.15,130.26 101.1,130.7 99.6,127.7 97.2,127.3 95,126.25 88.4,116.3 79.8,104.4"/>
<polygon points="95,126.25 97.2,127.3 99.6,127.7 101.1,130.7 103.15,130.26 105.29,130.4 107.3,129.7 109.3,130.2 110.3,133.3 111.91,134.2 113.4,135.3 112.5,136.91 111.4,138.4 113.27,139.65 115.4,140.4 117.58,141.77 119.5,143.5 121.56,143.63 123.6,144 125.7,142 127.62,141.8 129.5,142.24 131.4,142.4 129.23,143.37 127.5,145 126.16,146.52 125.2,148.3 124.31,150.24 123.17,152.03 121.86,153.69 120.6,155.4 121.01,157.4 120.91,159.47 121.67,161.43 121.5,163.5 121.9,166.25 120,173.75 119.8,175 122.8,179.6 114.1,180.6 94.4,177.5 94.44,175.36 95.42,173.36 95.56,171.23 95.91,169.13 96,167 96.03,164.85 96.21,162.7 96.3,160.55 96,158.4 96.61,156.27 97.03,154.09 97.95,152.04 98.1,149.8 97.67,147.92 97.69,145.98 96.92,144.15 97,142.2 96.82,140.21 96.08,138.37 95.58,136.46 94.9,134.6 95.13,132.51 94.52,130.42 94.85,128.34"/>
<polygon points="20,167.5 37.5,172.5 46.25,175 47.5,172.5 94.4,177.5 114.1,180.6 100.3,190.3 98.3,193.4 97.3,197 94.7,199.5 94.7,203.6 97.3,204.7 102.4,207.7 105.4,208.2 109.5,205.7 108.29,207.82 107.4,210.1 107.38,211.94 107.32,213.77 106,215.41 106.3,217.3 104.32,218.11 102.07,217.98 100.07,218.72 98.25,220.08 96.1,220.3 94.6,221.55 92.76,222.13 90.73,222.32 89.53,224.16 87.45,224.26 85.9,225.4 84.19,226.26 83.16,227.96 81.6,229 80.01,230.01 78.75,231.42 77.29,232.59 75.7,233.6 73.95,234.6 72.96,236.45 71.5,237.79 69.64,238.66 68.7,240.57 66.54,241.12 65.4,242.8 63.36,242.99 61.34,243.37 59.28,243.37 57.22,243.43 55.2,243.8 53.15,243.32 51.1,244.1 49.05,243.37 47,243.8 45.06,242.69 44.05,240.65 42.56,239.09 40.9,237.7 39.85,235.75 37.92,234.5 36.8,232.6 34.69,233.48 32.89,234.98 30.7,235.7 28.86,235.03 27.18,233.95 25.14,233.74 23.5,232.6 22.31,230.98 21.99,228.98 21.27,227.16 20.4,225.4 20.28,223.19 18.71,221.45 18.4,219.3 18.71,217.15 19.35,215.11 20.4,213.2 19.77,211.2 20.34,209.05 19.34,207.09 19.4,205 18.19,203.42 17.16,201.69 15.44,200.54 14.3,198.9 12.18,197.45 10.2,195.8 10.87,193.8 10.12,191.63 10.53,189.6 11.2,187.6 13.84,187.33 16.4,186.6 16.95,184.73 17.48,182.85 17.77,180.92 17.39,178.88 17.87,176.99 18.37,175.1 18.65,173.18 19.42,171.35 20.06,169.49"/>
<polygon points="114.1,180.6 100.3,190.3 98.3,193.4 97.3,197 94.7,199.5 94.7,203.6 97.3,204.7 102.4,207.7 105.4,208.2 109.5,205.7 110.61,203.67 112.06,201.82 112.6,199.5 114.74,199.17 116.69,198.25 118.7,197.5 120.35,196.45 122.46,196.7 124.26,196.09 125.9,195 127.94,195.78 130,196.5 131.73,197.1 133.25,198.22 135.1,198.5 136.67,197.53 138.2,196.5 137.15,194.82 135.76,193.47 134.1,192.4 134.8,190 136.4,188.8 135.3,184.5 134.1,183.2 123.9,182.7 122.8,179.6"/>
<polygon points="131.4,142.4 133.47,142.44 135.4,143.2 136.6,144.73 138.07,145.99 139.5,147.3 140.34,149.03 141.34,150.68 142.2,152.4 142.2,155 143,158 144.1,161 143.93,162.85 144.1,164.7 144.69,166.45 145.5,168.1 144.1,170.4 140,170 137.7,168.9 135.5,166.2 135.47,164.33 135.1,162.5 132.5,161 130.6,158.7 128,160.2 126.22,160.72 124.84,162.03 123.06,162.54 121.5,163.5 121.67,161.43 120.91,159.47 121.01,157.4 120.6,155.4 121.86,153.69 123.17,152.03 124.31,150.24 125.2,148.3 126.16,146.52 127.5,145 129.23,143.37"/>
<polygon points="121.5,163.5 123.06,162.54 124.84,162.03 126.22,160.72 128,160.2 130.6,158.7 132.5,161 135.1,162.5 135.47,164.33 135.5,166.2 137.7,168.9 137,170 138.9,172.6 137.7,174.5 137.46,176.74 137.4,179 136.77,181.59 136.2,184.2 135.3,184.5 134.1,183.2 123.9,182.7 122.8,179.6 119.8,175 120,173.75 121.9,166.25"/>
<polygon points="155,136.4 146.25,136.9 135.5,137.6 131.4,142.4 133.47,142.44 135.4,143.2 136.6,144.73 138.07,145.99 139.5,147.3 140.34,149.03 141.34,150.68 142.2,152.4 142.2,155 143,158 144.1,161 143.93,162.85 144.1,164.7 144.69,166.45 145.5,168.1 146.7,168.1 152,167.4 154.2,166.5 158.7,167.4 158,164.7 157.72,162.11 157.6,159.5 157.81,157.43 157.4,155.4 157.49,153.36 156.75,151.37 157.18,149.32 156.9,147.3 157,145.5 156.79,143.7 157.31,141.9 156.9,140.1 156.11,138.17"/>
<polygon points="137.7,168.9 140,170 144.1,170.4 145.5,168.1 146.7,168.1 152,167.4 154.2,166.5 154.2,169.2 155.7,172.2 155.4,174.5 157.2,177.5 158.15,179.44 158.3,181.6 158.88,183.66 158.7,185.8 158.3,191.4 156.9,189.1 156.03,187.16 155,185.3 153.12,184.31 151.2,183.4 149.34,183.23 147.49,182.78 145.6,183 143.8,183.74 141.92,183.91 140,183.9 138.73,185.96 137.8,188.2 136.4,188.8 135.3,184.5 136.2,184.2 136.77,181.59 137.4,179 137.46,176.74 137.7,174.5 138.9,172.6 137,170"/>
<polygon points="154.2,166.5 158.7,167.4 161,168.1 163.2,168.5 166.2,169.2 167.2,170.3 165.35,171.74 163.7,173.4 163,175.3 164.9,175.9 166.1,178.3 165.97,180.51 166.7,182.6 169,183.8 169.8,185.3 162.5,184.8 158.7,185.8 158.88,183.66 158.3,181.6 158.15,179.44 157.2,177.5 155.4,174.5 155.7,172.2 154.2,169.2"/>
<polygon points="140,183.9 141.92,183.91 143.8,183.74 145.6,183 147.49,182.78 149.34,183.23 151.2,183.4 153.12,184.31 155,185.3 156.03,187.16 156.9,189.1 158.3,191.4 158.3,194.7 162.5,196.1 163.4,197.5 162,202.2 159.7,204 158.7,205.9 157.57,204.04 156.4,202.2 155.67,200.37 155.5,198.4 154.58,196.1 154,193.7 152.02,192.25 150.3,190.5 147.98,189.9 145.71,189.15 143.5,188.2 141.59,188.46 139.8,189.2 137.8,188.2 138.73,185.96"/>
<polygon points="158.7,185.8 162.5,184.8 169.8,185.3 173.2,188 176.5,191.2 178.4,192.8 180.3,196.6 183.1,199.8 186.9,198.9 185.9,205.9 183.1,204.1 178.4,203.1 174.7,201.2 168.1,198 163.4,197.5 162.5,196.1 158.3,194.7 158.3,191.4"/>
<polygon points="155,136.4 166,137.5 177.5,138.75 176.9,141.9 178.96,141.8 180.99,142.06 183,142.5 182.43,144.28 181.07,145.68 180.6,147.5 178.27,147.63 176,148.13 173.75,148.75 172.81,150.83 171.25,152.5 171.54,154.53 171.31,156.52 171.08,158.51 170.82,160.51 170.6,162.5 171.9,165 173.1,167.2 169.2,168.5 167.2,170.3 166.2,169.2 163.2,168.5 161,168.1 158.7,167.4 158,164.7 157.72,162.11 157.6,159.5 157.81,157.43 157.4,155.4 157.49,153.36 156.75,151.37 157.18,149.32 156.9,147.3 157,145.5 156.79,143.7 157.31,141.9 156.9,140.1 156.11,138.17"/>
<polygon points="155.8,75.2 157.78,74.36 159.9,74.7 161.43,73.18 163.5,72.6 162.9,71.1 160.85,70.74 158.9,70 162.4,50.2 181.7,51.5 180.7,49.4 182.23,48.44 183.7,47.4 185.01,45.48 185.8,43.3 187.52,41.96 189.01,40.34 190.9,39.2 191.43,37.35 192.9,36.1 193.81,37.75 195,39.2 195.97,40.96 197.86,41.81 199.1,43.3 200.95,41.49 203.2,40.2 205.38,40.15 207.3,41.2 209.37,42.11 211.3,43.3 211.83,45.61 213.4,47.4 213.4,50.4 215.46,51.44 217.5,52.5 219.01,54.3 219.5,56.6 221.12,57.71 222.11,59.45 223.6,60.7 225.83,61.52 228,62.5 227.65,64.29 227.3,66.07 226.7,67.8 226.08,69.67 224.97,71.32 224.7,73.34 223.6,75 221.62,76.14 219.5,77 217.51,78.16 215.4,79.1 215.18,81.15 215.4,83.2 213.45,84.12 211.39,84.72 209.3,85.2 208.37,86.95 207.56,88.77 206.44,90.41 205.38,92.09 204.24,93.72 203.2,95.4 203.13,97.25 202.12,98.87 201.76,100.64 201.19,102.37 201.27,104.26 200.89,106.03 200.1,107.7 198.83,109.61 198.4,111.95 197,113.8 195.55,115.73 193.5,117 191.52,118.23 190,120 190.41,122.49 190.6,125 188.54,126.46 186.25,127.5 185.89,129.69 185.6,131.9 187.79,132.97 190,134 180,135.6 177.5,138.75 166,137.5 155,136.4 155.15,134.15 155.03,131.93 154.13,129.75 154.4,127.5 154.24,125.6 154.38,123.72 154.77,121.87 155,120 153.7,118.65 152.5,117.2 151.55,115.15 150.4,113.2 149.94,111.29 148.79,109.63 148.4,107.7 149.23,105.85 149.36,103.76 150.28,101.94 150.87,100.01 151.8,98.2 152.25,95.9 152.21,93.6 151.8,91.3 150.86,88.9 149.7,86.6 151.32,85.48 152.5,83.9 153.85,81.61 155.8,79.8 155.66,77.5"/>
<polygon points="177.5,138.75 180,135.6 190,134 191.87,133.55 193.75,133.89 195.63,134.11 197.49,133.5 199.38,134.22 201.25,133.75 201.16,135.9 200.41,137.92 200,140 198,140.6 197.81,142.75 197.89,144.89 198.81,146.96 198.68,149.11 198.75,151.25 198.75,152 197.65,153.62 196.25,155 194.78,156.23 192.93,156.7 191.25,157.5 189.12,157.7 187.03,158.08 185,158.75 183.75,160 183.1,162.5 183.03,164.54 182.5,166.5 180.6,166.9 173.1,167.2 171.9,165 170.6,162.5 170.82,160.51 171.08,158.51 171.31,156.52 171.54,154.53 171.25,152.5 172.81,150.83 173.75,148.75 176,148.13 178.27,147.63 180.6,147.5 181.07,145.68 182.43,144.28 183,142.5 180.99,142.06 178.96,141.8 176.9,141.9"/>
<polygon points="228,62.5 228.24,64.67 228.7,66.8 231.8,67.8 232.42,70.33 232.8,72.9 234.08,71.48 235.9,70.9 237.9,69.9 241,70.9 243,72.9 244.9,74.1 246.1,76 247.88,77.57 250.2,78.1 251.46,79.89 253.05,81.4 254.3,83.2 256.25,83.56 258.15,84.09 260,84.86 262,85 262.24,86.98 261.52,88.89 261.36,90.84 261.22,92.79 261.67,94.78 260.76,96.67 260.98,98.65 260.8,100.6 260.34,102.62 260.17,104.66 260.55,106.75 259.73,108.73 259.9,110.8 260.8,114.2 260.51,116.3 259.48,118.21 259.17,120.3 259.04,122.44 258.2,124.4 256.23,125.34 254.8,127 256.5,129.5 255.56,131.08 254.76,132.75 253.03,133.77 252.3,135.5 251.24,136.96 250.18,138.42 248.9,139.7 247.73,141.74 247.1,144 244.4,144.4 243.09,143.04 242.5,141.25 240.6,141.25 240,143.75 238.3,142.68 236.9,141.25 234.4,141.9 232.5,144.4 230.66,145.39 228.75,146.25 227.5,149.4 225.57,150.22 223.75,151.25 221.25,150 219.36,150.23 217.5,150.6 215.62,151.03 213.75,150.6 211.88,151.28 210,151.9 207.5,151.54 205,151.9 202.92,152.01 200.83,151.89 198.75,152 198.75,151.25 198.68,149.11 198.81,146.96 197.89,144.89 197.81,142.75 198,140.6 200,140 200.41,137.92 201.16,135.9 201.25,133.75 199.38,134.22 197.49,133.5 195.63,134.11 193.75,133.89 191.87,133.55 190,134 187.79,132.97 185.6,131.9 185.89,129.69 186.25,127.5 188.54,126.46 190.6,125 190.41,122.49 190,120 191.52,118.23 193.5,117 195.55,115.73 197,113.8 198.4,111.95 198.83,109.61 200.1,107.7 200.89,106.03 201.27,104.26 201.19,102.37 201.76,100.64 202.12,98.87 203.13,97.25 203.2,95.4 204.24,93.72 205.38,92.09 206.44,90.41 207.56,88.77 208.37,86.95 209.3,85.2 211.39,84.72 213.45,84.12 215.4,83.2 215.18,81.15 215.4,79.1 217.51,78.16 219.5,77 221.62,76.14 223.6,75 224.7,73.34 224.97,71.32 226.08,69.67 226.7,67.8 227.3,66.07 227.65,64.29"/>
<polygon points="198.75,152 200.83,151.89 202.92,152.01 205,151.9 207.5,151.54 210,151.9 211.88,151.28 213.75,150.6 215.62,151.03 217.5,150.6 219.36,150.23 221.25,150 223.75,151.25 225.57,150.22 227.5,149.4 228.75,146.25 230.66,145.39 232.5,144.4 234.4,141.9 236.9,141.25 238.3,142.68 240,143.75 241.16,145.25 242.01,146.91 242.5,148.75 241.52,150.51 241.25,152.5 240.96,154.49 240,156.25 240.66,158.86 241.9,161.25 235,161.9 228.1,162.5 227.5,170 221.9,171.25 221.9,176.25 220,176.25 206.25,174.4 197.5,172.5 191.5,172.5 190,167.5 187.5,166.5 182.5,166.5 183.03,164.54 183.1,162.5 183.75,160 185,158.75 187.03,158.08 189.12,157.7 191.25,157.5 192.93,156.7 194.78,156.23 196.25,155 197.65,153.62"/>
<polygon points="241.9,161.25 243.36,162.61 245,163.75 245.51,166.28 246.25,168.75 245.89,170.62 246.27,172.5 246.47,174.38 246.49,176.25 246.03,178.12 246.25,180 249.4,181.25 249.52,183.29 249.7,185.32 249.63,187.36 249.4,189.4 245,186.9 239.4,185.6 228.75,186.9 221.25,186.9 221.9,176.25 221.9,171.25 227.5,170 228.1,162.5 235,161.9"/>
<polygon points="191.5,172.5 197.5,172.5 206.25,174.4 220,176.25 221.9,176.25 221.25,186.9 219.4,190 215.6,196.25 215,196.25 188.7,193 188.7,190 190,181.25"/>
<polygon points="173.1,167.2 180.6,166.9 182.5,166.5 187.5,166.5 190,167.5 191.5,172.5 190,181.25 188.7,190 188.7,193 186.9,198.9 183.1,199.8 180.3,196.6 178.4,192.8 176.5,191.2 173.2,188 169.8,185.3 169,183.8 166.7,182.6 165.97,180.51 166.1,178.3 164.9,175.9 163,175.3 163.7,173.4 165.35,171.74 167.2,170.3 169.2,168.5"/>
<polygon points="163.4,197.5 168.1,198 174.7,201.2 178.4,203.1 183.1,204.1 185.9,205.9 184,207.8 183.1,212.5 184.5,216 186.25,217.5 184.4,222.5 172.5,221.25 169.5,217 168.8,213 167.8,209.7 164.4,207.8 162.5,205.9 162,202.2"/>
<polygon points="158.7,205.9 159.7,204 162,202.2 162.5,205.9 164.4,207.8 167.8,209.7 168.8,213 169.5,217 172.5,221.25 173.75,225 177.5,232.5 177.5,237.5 172.5,241.9 170.61,240.68 168.79,239.4 167.5,237.5 166.68,235.56 165.6,233.75 164.36,231.37 163.75,228.75 163.2,226.94 162,225.46 161.25,223.75 160.33,221.7 160.12,219.37 158.75,217.5 158.51,215.63 158.33,213.76 157.98,211.9 158.1,210 158.44,207.96"/>
<polygon points="172.5,221.25 184.4,222.5 186.25,217.5 201.9,218.1 200,223.75 198.1,230 200.6,233.75 202.4,239.8 200.4,244.7 198.5,252.4 201.4,258.2 204.3,268.8 203.3,271.7 196.6,271.7 195.6,269.7 195.89,267.81 195.43,266.04 195.22,264.23 194.5,262.5 193.98,260.68 192.92,259.12 192.16,257.42 191.42,255.71 190.57,254.05 189.5,252.5 188.01,251.2 187.59,249.13 185.68,248.14 185,246.25 183.01,244.91 181.48,243.1 180,241.25 178.17,241.96 176.3,242.1 174.39,241.96 172.5,241.9 177.5,237.5 177.5,232.5 173.75,225"/>
<polygon points="201.9,218.1 203.75,220 220,221.9 223.1,221.9 226.25,225 226.9,235 225,243.75 231.25,244.4 230,255 229,262 227,270 204.3,268.8 201.4,258.2 198.5,252.4 200.4,244.7 202.4,239.8 200.6,233.75 198.1,230 200,223.75"/>
<polygon points="186.9,198.9 188.7,193 215,196.25 215.6,196.25 215,201.25 218.1,207.5 218.75,213.75 220,220 220,221.9 203.75,220 201.9,218.1 186.25,217.5 184.5,216 183.1,212.5 184,207.8 185.9,205.9"/>
<polygon points="221.25,186.9 228.75,186.9 239.4,185.6 245,186.9 249.4,189.4 251.47,191.1 253.75,192.5 255.42,193.29 256.9,194.4 254.51,195.31 252.5,196.9 250,195.6 247.83,196.1 245.6,196.25 245.84,198.33 245.64,200.46 246.25,202.5 247.23,204.06 248.56,205.37 249.47,206.98 250.5,208.5 248.67,209 246.8,209.24 244.87,209.22 243.1,210 243.71,212.16 244.33,214.32 244.14,216.65 245,218.75 244.3,220.56 244.48,222.57 244.11,224.46 242.97,226.17 243.17,228.18 242.5,230 241.9,230.6 237.5,225.6 226.25,225 223.1,221.9 220,221.9 220,220 218.75,213.75 218.1,207.5 215,201.25 215.6,196.25 219.4,190"/>
<polygon points="262,85 264.51,84.55 267,84 268.95,83.13 270.54,81.61 272.37,80.53 274.5,80 276.94,80.81 279.5,81 280.99,82.84 282.6,84.57 284.5,86 286.43,86.73 288.45,87.25 290.3,88.16 292.14,89.09 294,90 296,90.19 298,89.82 300,90 301.94,90.01 303.88,89.65 305.81,90.47 307.75,90 309.54,91.96 311.5,93.75 312.28,95.89 313.7,97.58 315.69,98.89 316.5,101 317.49,99.29 319.04,98.03 320.5,96.71 321.5,95 323.17,93.64 325,92.5 326.34,93.9 328.39,93.98 329.82,95.24 331.5,96 333.18,97.09 334.4,98.71 336.34,99.51 337.46,101.24 339,102.5 339.69,104.2 340.7,105.7 341.82,107.12 343.33,108.28 344,110 346.06,110.98 347.75,112.5 349.28,111.53 350.7,110.39 352.22,109.4 353.84,108.58 355.29,107.48 356.69,106.31 358.56,105.88 360.29,105.21 361.5,103.75 362.07,101.56 363.47,99.71 364,97.5 364.05,95.62 364,93.75 365.74,94.78 367.75,95 369.8,94.73 371.81,94.32 373.52,92.86 375.46,92.22 377.45,91.72 379.45,91.28 381.5,91 383.55,90.34 385,88.75 385.89,86.91 385.39,84.8 386.61,83.03 386.5,81 388.39,80.84 390.25,80.53 392.07,79.85 394,80 396.24,80.06 398.37,79.32 400.62,79.44 402.75,78.75 405,81 486.25,81 487.5,83.75 487.07,85.83 487.22,88.03 486.25,90 486.75,91.92 487.69,93.69 488.07,95.64 488.75,97.5 486.92,98.27 485,98.75 484.11,100.39 483.57,102.2 482.5,103.75 480,105 479.93,107.15 479.55,109.24 478.75,111.25 477.21,113.46 475,115 474.27,116.84 473.4,118.63 473.16,120.64 472.5,122.5 472.17,124.38 472.04,126.25 472.06,128.12 472.5,130 473.52,131.6 473.34,133.55 473.85,135.29 474.5,137 474.39,139.2 473.7,141.3 475.06,142.78 476.32,144.34 477.9,145.6 478.67,147.66 478.91,149.89 480.24,151.78 480.5,154 480.31,156.02 479.47,157.94 479.6,160 478.07,161.52 476.2,162.6 475.11,164.18 474.54,166.02 474.18,167.97 472.8,169.4 470.3,170.3 468.94,169.02 467.67,167.67 466.8,166 465.39,164.48 464.62,162.54 463.4,160.9 462.4,159.36 460.9,158.3 459.23,159.64 457.5,160.9 455.86,161.69 454.11,162.19 452.39,162.74 450.7,163.4 448.55,163.8 446.31,163.81 444.17,164.27 442.1,165.1 440.32,164.69 438.53,164.32 436.97,163.3 435.3,162.6 433.01,162.45 430.78,161.93 428.5,161.7 426.51,160.91 424.48,160.34 422.2,160.97 420.25,160 418.58,161.35 417.6,163.22 416.5,165 415.9,166.78 415.27,168.55 414,170 413.72,172.13 414.45,174.16 415.02,176.21 414.42,178.37 414.59,180.46 415.25,182.5 413.07,181.7 411.5,180 409.63,181.26 407.75,182.5 406.27,180.87 404.52,179.62 402.74,178.42 400.92,177.26 399,176.25 397.06,175.07 394.93,174.35 392.75,173.75 390.54,173.95 388.65,174.98 386.78,176.07 384.62,176.39 382.75,177.5 381.45,178.93 381.38,180.98 380.25,182.5 380.58,184.42 382.41,185.59 382.75,187.5 382.63,189.52 382.16,191.49 381.62,193.45 381.41,195.46 381.5,197.5 379.96,198.58 378.14,199.12 376.57,200.14 374.82,200.8 372.93,201.19 371.5,202.5 370.78,204.19 369.52,205.52 368.97,207.31 367.84,208.73 366.5,210 365.24,208.71 363.77,207.64 362.49,206.36 361.46,204.83 360,203.75 358,204.1 356,204.06 354,203.51 352,203.49 350,203.75 347.83,205.33 346.25,207.5 345.52,209.19 344.43,210.66 343.14,212.01 342.5,213.75 340.62,214.02 338.79,214.64 336.89,214.8 335,215 333.51,213.51 331.88,212.21 330,211.25 328.09,210.72 326.32,209.8 324.28,209.65 322.38,209.11 320.61,208.18 318.75,207.5 317.08,205.84 315.48,204.1 313.75,202.5 311.68,201.64 309.52,200.99 307.5,200 306.67,201.61 305.55,203.03 304.52,204.51 303.2,205.8 302.5,207.5 300.55,207.58 298.78,208.45 296.8,208.41 294.99,209.13 293.06,209.29 291.25,210 289.43,210.25 287.75,210.99 286.07,211.74 284.15,211.67 282.5,212.5 280.86,213.7 278.79,214.12 277.46,215.86 275.6,216.68 273.75,217.5 271.75,218.36 269.64,218.63 267.5,218.75 267.29,220.62 267.56,222.5 267.14,224.38 267.72,226.25 267.9,228.12 267.79,230 267.2,231.88 267.5,233.75 263,233.75 250,231.25 245,231.25 242.5,230 243.17,228.18 242.97,226.17 244.11,224.46 244.48,222.57 244.3,220.56 245,218.75 244.14,216.65 244.33,214.32 243.71,212.16 243.1,210 244.87,209.22 246.8,209.24 248.67,209 250.5,208.5 249.47,206.98 248.56,205.37 247.23,204.06 246.25,202.5 245.64,200.46 245.84,198.33 245.6,196.25 247.83,196.1 250,195.6 252.5,196.9 254.51,195.31 256.9,194.4 255.42,193.29 253.75,192.5 251.47,191.1 249.4,189.4 249.63,187.36 249.7,185.32 249.52,183.29 249.4,181.25 246.25,180 246.03,178.12 246.49,176.25 246.47,174.38 246.27,172.5 245.89,170.62 246.25,168.75 245.51,166.28 245,163.75 243.36,162.61 241.9,161.25 240.66,158.86 240,156.25 240.96,154.49 241.25,152.5 241.52,150.51 242.5,148.75 242.01,146.91 241.16,145.25 240,143.75 240.6,141.25 242.5,141.25 243.09,143.04 244.4,144.4 247.1,144 247.73,141.74 248.9,139.7 250.18,138.42 251.24,136.96 252.3,135.5 253.03,133.77 254.76,132.75 255.56,131.08 256.5,129.5 254.8,127 256.23,125.34 258.2,124.4 259.04,122.44 259.17,120.3 259.48,118.21 260.51,116.3 260.8,114.2 259.9,110.8 259.73,108.73 260.55,106.75 260.17,104.66 260.34,102.62 260.8,100.6 260.98,98.65 260.76,96.67 261.67,94.78 261.22,92.79 261.36,90.84 261.52,88.89 262.24,86.98"/>
<polygon points="242.5,230 245,231.25 250,231.25 263,233.75 267.5,233.75 267.34,235.88 266.28,237.84 266.25,240 266.15,241.94 267.04,243.72 266.8,245.69 267.5,247.5 266.41,249.13 266.21,251.13 265.16,252.78 264.33,254.52 264.15,256.52 263.41,258.29 262.5,260 263.22,261.99 264.65,263.61 265.68,265.44 266.25,267.5 267.33,269.14 268.01,270.94 268.35,272.87 268.99,274.69 269.5,276.56 270.48,278.24 271.25,280 270.64,281.88 269.59,283.61 269.32,285.61 268.75,287.5 269.19,289.51 269.82,291.48 270.66,293.4 270.65,295.53 271.25,297.5 270.87,299.57 271.1,301.69 270.49,303.74 270.58,305.85 270,307.9 270,310 272.09,310.76 274.1,311.7 275.7,313.21 276.88,315.06 278.2,316.8 276.56,317.89 275.34,319.4 274.1,320.9 272.13,320.83 270.17,321.02 268.21,321.04 266.25,321.25 264.38,321.18 262.66,320.58 261.02,319.67 259.22,319.35 257.5,318.75 256.73,320.4 255.06,321.45 254.07,322.96 253.28,324.6 252.5,326.25 250.54,326.89 248.63,327.77 246.56,328 244.44,328.02 242.5,328.75 239.88,328.61 237.5,327.5 236.12,325.55 233.76,324.58 232.5,322.5 222.5,312.5 227,270 229,262 230,255 231.25,244.4 225,243.75 226.9,235 226.25,225 237.5,225.6 241.9,230.6"/>
<polygon points="267.5,218.75 269.64,218.63 271.75,218.36 273.75,217.5 275.6,216.68 277.46,215.86 278.79,214.12 280.86,213.7 282.5,212.5 284.15,211.67 286.07,211.74 287.75,210.99 289.43,210.25 291.25,210 293.06,209.29 294.99,209.13 296.8,208.41 298.78,208.45 300.55,207.58 302.5,207.5 303.2,205.8 304.52,204.51 305.55,203.03 306.67,201.61 307.5,200 309.52,200.99 311.68,201.64 313.75,202.5 315.48,204.1 317.08,205.84 318.75,207.5 320.61,208.18 322.38,209.11 324.28,209.65 326.32,209.8 328.09,210.72 330,211.25 331.88,212.21 333.51,213.51 335,215 336.89,214.8 338.79,214.64 340.62,214.02 342.5,213.75 343.14,212.01 344.43,210.66 345.52,209.19 346.25,207.5 347.83,205.33 350,203.75 352,203.49 354,203.51 356,204.06 358,204.1 360,203.75 361.46,204.83 362.49,206.36 363.77,207.64 365.24,208.71 366.5,210 365.68,212.01 366.43,214.22 365.5,216.22 365.38,218.32 364.82,220.37 365,222.5 365.24,224.47 364.56,226.28 363.53,228.04 363.75,230 365.29,231.35 366.07,233.19 367.24,234.77 367.66,236.83 368.72,238.48 370,240 370.59,241.94 369.66,243.89 369.45,245.83 370.25,247.78 370.1,249.72 369.74,251.67 369.58,253.61 369.57,255.56 370,257.5 369.36,259.39 369.39,261.38 368.8,263.28 369.35,265.34 368.3,267.18 368.87,269.24 368.51,271.18 368.15,273.11 367.5,275 368.85,276.58 369.49,278.69 371.2,280 371.1,282.19 369.45,283.92 369.03,286.01 368.85,288.18 368.2,290.2 367.46,291.93 365.81,293.05 365.57,295.11 364.02,296.29 363.1,297.9 362.19,299.52 361.21,301.09 360,302.5 358.74,304.21 358,306.2 356.79,307.94 355.6,309.68 354.9,311.7 356.17,313.92 357.9,315.8 358.12,317.84 357.77,319.89 358.19,321.93 357.89,323.97 358.08,326.01 357.75,328.06 357.9,330.1 359.81,331.25 361.96,331.67 364.1,332.1 363.75,333.94 363.67,335.78 363.86,337.62 364.62,339.46 364.1,341.3 362.03,341.2 359.98,341.43 357.96,341.98 355.88,341.82 353.9,342.78 351.8,342.4 349.85,343.32 347.7,343.4 345.75,342.53 343.69,342.2 341.47,342.67 339.54,341.72 337.5,341.3 335.38,341.55 333.33,342.08 331.41,343.12 329.3,343.4 329.55,345.34 328.9,347.22 328.59,349.12 328.4,351.02 328.13,352.93 328.28,354.86 329.02,356.83 328.3,358.7 326.43,357.33 324.2,356.7 322.46,355.75 321.36,354.05 319.8,352.89 317.9,352.13 317.06,350.13 315.04,349.51 314.17,347.54 312.25,346.81 310.9,345.4 310.73,348.06 309.9,350.6 307.85,350.31 305.8,350.6 304.91,348.81 303.27,347.46 302.97,345.32 301.51,343.87 300.5,342.14 299.7,340.3 298.83,338.56 298.44,336.72 298.13,334.85 297.78,333 297.6,331.1 297.6,328.93 296.43,327.04 296.22,324.92 295.6,322.9 293.81,322.37 292.04,321.76 290.14,321.61 288.4,320.9 286.82,319.92 284.97,319.61 283.41,318.58 281.39,318.69 280.05,317.11 278.2,316.8 276.88,315.06 275.7,313.21 274.1,311.7 272.09,310.76 270,310 270,307.9 270.58,305.85 270.49,303.74 271.1,301.69 270.87,299.57 271.25,297.5 270.65,295.53 270.66,293.4 269.82,291.48 269.19,289.51 268.75,287.5 269.32,285.61 269.59,283.61 270.64,281.88 271.25,280 270.48,278.24 269.5,276.56 268.99,274.69 268.35,272.87 268.01,270.94 267.33,269.14 266.25,267.5 265.68,265.44 264.65,263.61 263.22,261.99 262.5,260 263.41,258.29 264.15,256.52 264.33,254.52 265.16,252.78 266.21,251.13 266.41,249.13 267.5,247.5 266.8,245.69 267.04,243.72 266.15,241.94 266.25,240 266.28,237.84 267.34,235.88 267.5,233.75 267.2,231.88 267.79,230 267.9,228.12 267.72,226.25 267.14,224.38 267.56,222.5 267.29,220.62"/>
<polygon points="196.6,271.7 203.3,271.7 204.3,268.8 227,270 222.5,312.5 212,311.25 205.75,307.5 199.5,311.25 189.5,300 191.15,298.47 192,296.29 193.7,294.8 193.88,292.86 194.86,291.05 194.47,289.02 194.58,287.07 195.78,285.3 195.6,283.3 195.52,281.35 195.57,279.4 196.35,277.52 195.85,275.53 196.52,273.64"/>
<polygon points="189.5,300 199.5,311.25 205.75,307.5 212,311.25 222.5,312.5 232.5,322.5 231.55,324.27 230.95,326.15 230.3,328.02 230,330 227.97,331.3 226.43,333.1 225,335 224.58,337.02 223.46,338.87 223.82,341.08 223.45,343.11 222.5,345 220.6,346.43 219.12,348.28 217.5,350 217.35,352.62 216.25,355 217.09,356.97 218.1,358.87 218.98,360.82 219.59,362.87 220,365 221.02,366.6 220.5,368.64 222.02,370.1 221.61,372.11 222.5,373.75 220.92,375.12 218.85,375.83 217.5,377.5 218.79,379.21 220.79,380.21 221.9,382.1 223.83,383.17 225,385 223.06,384.42 221.6,382.88 219.66,382.3 217.88,381.38 215.8,381.07 214.44,379.34 212.5,378.75 210.42,379.29 208.33,378.76 206.25,378.64 204.17,379 202.08,378.57 200,378.75 198.33,379.58 196.5,380.09 195,381.25 193.42,382.43 191.86,383.64 189.71,383.91 188.2,385.2 186.47,386.14 185,387.5 183.25,388.13 182.07,389.6 180.49,390.48 179.11,391.67 177.5,392.5 176.16,393.77 175.76,395.68 174.88,397.25 173.48,398.49 172.5,400 172.6,401.99 171.09,403.62 170.68,405.5 170.8,407.49 170.84,409.47 170,411.25 168.16,411.84 166.21,411.12 164.38,411.75 162.51,411.94 160.65,412.3 158.75,412.17 156.89,412.57 155,412.5 153.11,412.73 151.16,412.61 149.33,413.16 147.53,413.94 145.56,413.67 143.84,414.94 141.81,414.29 140,415 138.04,415.32 136.11,415.99 134.11,415.95 132.1,415.9 130.89,413.75 130.6,411.3 129.53,409.77 128.39,408.31 126.7,407.4 125.43,406.07 124.4,404.5 122.76,403.54 121.43,402.27 120.55,400.55 119.15,399.35 117.57,398.33 116.06,397.24 115.42,395.28 113.7,394.4 112.25,393.12 110.86,391.79 109.4,390.52 108.12,389.09 107.32,387.21 105.52,386.26 104.81,384.3 103.43,382.95 101.9,381.76 100.57,380.36 99.14,379.07 98.18,377.34 96.8,376 95.43,374.79 94.38,373.24 92.38,372.71 91.68,370.76 90.27,369.61 88.95,368.34 87.55,367.16 86.05,366.1 84.95,364.59 83.2,363.79 81.89,362.52 80.68,361.13 79.66,359.54 78.18,358.45 76.6,357.47 74.97,356.54 74.23,354.65 72.5,353.84 71.33,352.41 69.5,351.7 68.71,349.86 67.2,348.8 68.89,349.53 70.8,349.3 72.5,350 74.61,350.46 76.68,351.01 78.32,352.72 80.41,353.24 82.5,353.75 84.51,354.44 86.55,355.06 88.59,355.67 90.7,356 91.46,357.84 93.21,359.01 93.83,360.94 95,362.5 96.49,364.1 98.5,365.1 99.9,366.8 101.88,366.9 103.57,368.05 105.65,367.79 107.49,368.39 109.11,369.81 111.18,369.56 113.01,370.21 114.93,370.54 116.7,371.4 118.49,370.39 120.65,370.57 122.26,369 124.44,369.24 126.17,368.04 128.1,367.48 130.25,367.61 132,366.5 133.46,365.29 135.57,365.53 137.1,364.48 138.65,363.47 140.42,362.94 142,362 143.97,361.07 145.89,360 148.21,359.84 150,358.5 151.44,356.75 153.19,355.34 155,354 156.29,352.36 157.75,350.85 158.75,349 158.76,346.76 159.92,344.73 160,342.5 161.9,341.4 163.03,339.53 164.6,338.1 166.21,336.71 167.5,335 167.96,332.99 168.02,330.88 169.41,329.1 170.04,327.14 170,325 170.87,323.21 170.73,321.08 172.15,319.47 172.5,317.5 174.29,316.29 175.13,314.13 176.58,312.58 178.47,311.47 180,310 180.71,308.08 182.02,306.51 183.05,304.78 184.33,303.19 185,301.25 187.34,300.95"/>
</g>
<path fill="none" stroke="#000" stroke-width="0.9" stroke-linejoin="round" stroke-linecap="round" d="M71.2,92.5 L69.37,92.4 L67.55,92.28 L65.81,91.62 L64.06,91.01 L62.28,90.56 L60.43,90.6 L58.67,90.1 L56.78,90.38 L54.99,90.04 L53.28,89.2 L51.39,89.44 L49.62,89.02 L47.78,88.99 L45.94,88.92 L44.16,88.54 L42.4,88 M42.4,88 L40.94,89.58 L39.82,91.41 L38.86,93.35 L37.5,95 M37.5,95 L36.43,96.72 L36.09,98.78 L34.75,100.38 L34.3,102.39 L32.84,103.94 L32.5,106 M32.5,106 L32.65,108.04 L31.87,109.98 L31.94,112.01 L31.36,113.97 L31.01,115.96 L31.08,117.99 L31,120 M31,120 L30.33,121.91 L31.09,123.91 L30.21,125.81 L30.35,127.77 L29.87,129.69 L30.03,131.65 L30.77,133.64 L30.47,135.58 L30,137.5 M30,137.5 L29.4,141 M29.4,141 L27.14,141.59 L24.75,141.07 L22.5,141.8 M22.5,141.8 L22.75,143.68 L22.27,145.48 L22.5,147.36 L22.29,149.19 L22.18,151.03 L21.24,152.8 L21.22,154.65 L21.39,156.52 L21.13,158.34 L21.14,160.2 L20.46,161.99 L20.04,163.8 L20.68,165.71 L20,167.5 M71.2,92.5 L69.91,91.22 L69.26,89.45 L67.55,88.49 L66.6,86.95 L65.66,85.41 L64.27,84.2 L63.45,82.56 L62.07,81.35 L61.4,79.6 M61.4,79.6 L61.49,77.48 L62.59,75.52 L62.92,73.44 L62.74,71.28 L63.1,69.2 M63.1,69.2 L65.1,68.2 M65.1,68.2 L67.2,69.7 M67.2,69.7 L70.2,70.2 M70.2,70.2 L72.32,69.65 L74.3,68.7 M74.3,68.7 L75.84,67.05 L77.9,66.1 M77.9,66.1 L79.47,65.14 L81,64.1 M81,64.1 L83,64.6 M83,64.6 L84.5,65.1 M84.5,65.1 L86,64.6 M86,64.6 L88.6,65.6 M88.6,65.6 L90.42,66.61 L92.08,67.89 L94.17,68.46 L95.69,69.98 L97.5,71 M97.5,71 L125.6,74.7 M125.6,74.7 L126.1,71.6 M126.1,71.6 L128.2,71.1 M128.2,71.1 L130.75,71.33 L133.3,71.6 M133.3,71.6 L140.4,72.6 M140.4,72.6 L150.7,74.1 M150.7,74.1 L153.35,74.19 L155.8,75.2 M109.5,205.7 L108.29,207.82 L107.4,210.1 M107.4,210.1 L107.38,211.94 L107.32,213.77 L106,215.41 L106.3,217.3 M106.3,217.3 L104.32,218.11 L102.07,217.98 L100.07,218.72 L98.25,220.08 L96.1,220.3 M96.1,220.3 L94.6,221.55 L92.76,222.13 L90.73,222.32 L89.53,224.16 L87.45,224.26 L85.9,225.4 M85.9,225.4 L84.19,226.26 L83.16,227.96 L81.6,229 L80.01,230.01 L78.75,231.42 L77.29,232.59 L75.7,233.6 M75.7,233.6 L73.95,234.6 L72.96,236.45 L71.5,237.79 L69.64,238.66 L68.7,240.57 L66.54,241.12 L65.4,242.8 M65.4,242.8 L63.36,242.99 L61.34,243.37 L59.28,243.37 L57.22,243.43 L55.2,243.8 M55.2,243.8 L53.15,243.32 L51.1,244.1 L49.05,243.37 L47,243.8 M47,243.8 L45.06,242.69 L44.05,240.65 L42.56,239.09 L40.9,237.7 M40.9,237.7 L39.85,235.75 L37.92,234.5 L36.8,232.6 M36.8,232.6 L34.69,233.48 L32.89,234.98 L30.7,235.7 M30.7,235.7 L28.86,235.03 L27.18,233.95 L25.14,233.74 L23.5,232.6 M23.5,232.6 L22.31,230.98 L21.99,228.98 L21.27,227.16 L20.4,225.4 M20.4,225.4 L20.28,223.19 L18.71,221.45 L18.4,219.3 M18.4,219.3 L18.71,217.15 L19.35,215.11 L20.4,213.2 M20.4,213.2 L19.77,211.2 L20.34,209.05 L19.34,207.09 L19.4,205 M19.4,205 L18.19,203.42 L17.16,201.69 L15.44,200.54 L14.3,198.9 M14.3,198.9 L12.18,197.45 L10.2,195.8 M10.2,195.8 L10.87,193.8 L10.12,191.63 L10.53,189.6 L11.2,187.6 M11.2,187.6 L13.84,187.33 L16.4,186.6 M16.4,186.6 L16.95,184.73 L17.48,182.85 L17.77,180.92 L17.39,178.88 L17.87,176.99 L18.37,175.1 L18.65,173.18 L19.42,171.35 L20.06,169.49 L20,167.5 M109.5,205.7 L110.61,203.67 L112.06,201.82 L112.6,199.5 M112.6,199.5 L114.74,199.17 L116.69,198.25 L118.7,197.5 M118.7,197.5 L120.35,196.45 L122.46,196.7 L124.26,196.09 L125.9,195 M125.9,195 L127.94,195.78 L130,196.5 M130,196.5 L131.73,197.1 L133.25,198.22 L135.1,198.5 M135.1,198.5 L136.67,197.53 L138.2,196.5 M138.2,196.5 L137.15,194.82 L135.76,193.47 L134.1,192.4 M134.1,192.4 L134.8,190 M134.8,190 L136.4,188.8 M137.8,188.2 L136.4,188.8 M158.7,205.9 L157.57,204.04 L156.4,202.2 M156.4,202.2 L155.67,200.37 L155.5,198.4 M155.5,198.4 L154.58,196.1 L154,193.7 M154,193.7 L152.02,192.25 L150.3,190.5 M150.3,190.5 L147.98,189.9 L145.71,189.15 L143.5,188.2 M143.5,188.2 L141.59,188.46 L139.8,189.2 M139.8,189.2 L137.8,188.2 M155.8,75.2 L157.78,74.36 L159.9,74.7 M159.9,74.7 L161.43,73.18 L163.5,72.6 M163.5,72.6 L162.9,71.1 M162.9,71.1 L160.85,70.74 L158.9,70 M158.9,70 L162.4,50.2 M162.4,50.2 L181.7,51.5 M181.7,51.5 L180.7,49.4 M180.7,49.4 L182.23,48.44 L183.7,47.4 M183.7,47.4 L185.01,45.48 L185.8,43.3 M185.8,43.3 L187.52,41.96 L189.01,40.34 L190.9,39.2 M190.9,39.2 L191.43,37.35 L192.9,36.1 M192.9,36.1 L193.81,37.75 L195,39.2 M195,39.2 L195.97,40.96 L197.86,41.81 L199.1,43.3 M199.1,43.3 L200.95,41.49 L203.2,40.2 M203.2,40.2 L205.38,40.15 L207.3,41.2 M207.3,41.2 L209.37,42.11 L211.3,43.3 M211.3,43.3 L211.83,45.61 L213.4,47.4 M213.4,47.4 L213.4,50.4 M213.4,50.4 L215.46,51.44 L217.5,52.5 M217.5,52.5 L219.01,54.3 L219.5,56.6 M219.5,56.6 L221.12,57.71 L222.11,59.45 L223.6,60.7 M223.6,60.7 L225.83,61.52 L228,62.5 M228,62.5 L228.24,64.67 L228.7,66.8 M228.7,66.8 L231.8,67.8 M231.8,67.8 L232.42,70.33 L232.8,72.9 M232.8,72.9 L234.08,71.48 L235.9,70.9 M235.9,70.9 L237.9,69.9 M237.9,69.9 L241,70.9 M241,70.9 L243,72.9 M243,72.9 L244.9,74.1 L246.1,76 M246.1,76 L247.88,77.57 L250.2,78.1 M250.2,78.1 L251.46,79.89 L253.05,81.4 L254.3,83.2 M254.3,83.2 L256.25,83.56 L258.15,84.09 L260,84.86 L262,85 M172.5,241.9 L170.61,240.68 L168.79,239.4 L167.5,237.5 M167.5,237.5 L166.68,235.56 L165.6,233.75 M165.6,233.75 L164.36,231.37 L163.75,228.75 M163.75,228.75 L163.2,226.94 L162,225.46 L161.25,223.75 M161.25,223.75 L160.33,221.7 L160.12,219.37 L158.75,217.5 M158.75,217.5 L158.51,215.63 L158.33,213.76 L157.98,211.9 L158.1,210 M158.1,210 L158.44,207.96 L158.7,205.9 M196.6,271.7 L195.6,269.7 M195.6,269.7 L195.89,267.81 L195.43,266.04 L195.22,264.23 L194.5,262.5 M194.5,262.5 L193.98,260.68 L192.92,259.12 L192.16,257.42 L191.42,255.71 L190.57,254.05 L189.5,252.5 M189.5,252.5 L188.01,251.2 L187.59,249.13 L185.68,248.14 L185,246.25 M185,246.25 L183.01,244.91 L181.48,243.1 L180,241.25 M180,241.25 L178.17,241.96 L176.3,242.1 L174.39,241.96 L172.5,241.9 M262,85 L264.51,84.55 L267,84 M267,84 L268.95,83.13 L270.54,81.61 L272.37,80.53 L274.5,80 M274.5,80 L276.94,80.81 L279.5,81 M279.5,81 L280.99,82.84 L282.6,84.57 L284.5,86 M284.5,86 L286.43,86.73 L288.45,87.25 L290.3,88.16 L292.14,89.09 L294,90 M294,90 L296,90.19 L298,89.82 L300,90 M300,90 L301.94,90.01 L303.88,89.65 L305.81,90.47 L307.75,90 M307.75,90 L309.54,91.96 L311.5,93.75 M311.5,93.75 L312.28,95.89 L313.7,97.58 L315.69,98.89 L316.5,101 M316.5,101 L317.49,99.29 L319.04,98.03 L320.5,96.71 L321.5,95 M321.5,95 L323.17,93.64 L325,92.5 M325,92.5 L326.34,93.9 L328.39,93.98 L329.82,95.24 L331.5,96 M331.5,96 L333.18,97.09 L334.4,98.71 L336.34,99.51 L337.46,101.24 L339,102.5 M339,102.5 L339.69,104.2 L340.7,105.7 L341.82,107.12 L343.33,108.28 L344,110 M344,110 L346.06,110.98 L347.75,112.5 M347.75,112.5 L349.28,111.53 L350.7,110.39 L352.22,109.4 L353.84,108.58 L355.29,107.48 L356.69,106.31 L358.56,105.88 L360.29,105.21 L361.5,103.75 M361.5,103.75 L362.07,101.56 L363.47,99.71 L364,97.5 M364,97.5 L364.05,95.62 L364,93.75 M364,93.75 L365.74,94.78 L367.75,95 M367.75,95 L369.8,94.73 L371.81,94.32 L373.52,92.86 L375.46,92.22 L377.45,91.72 L379.45,91.28 L381.5,91 M381.5,91 L383.55,90.34 L385,88.75 M385,88.75 L385.89,86.91 L385.39,84.8 L386.61,83.03 L386.5,81 M386.5,81 L388.39,80.84 L390.25,80.53 L392.07,79.85 L394,80 M394,80 L396.24,80.06 L398.37,79.32 L400.62,79.44 L402.75,78.75 M402.75,78.75 L405,81 M405,81 L486.25,81 M486.25,81 L487.5,83.75 M487.5,83.75 L487.07,85.83 L487.22,88.03 L486.25,90 M486.25,90 L486.75,91.92 L487.69,93.69 L488.07,95.64 L488.75,97.5 M488.75,97.5 L486.92,98.27 L485,98.75 M485,98.75 L484.11,100.39 L483.57,102.2 L482.5,103.75 M482.5,103.75 L480,105 M480,105 L479.93,107.15 L479.55,109.24 L478.75,111.25 M478.75,111.25 L477.21,113.46 L475,115 M475,115 L474.27,116.84 L473.4,118.63 L473.16,120.64 L472.5,122.5 M472.5,122.5 L472.17,124.38 L472.04,126.25 L472.06,128.12 L472.5,130 M472.5,130 L473.52,131.6 L473.34,133.55 L473.85,135.29 L474.5,137 M474.5,137 L474.39,139.2 L473.7,141.3 M473.7,141.3 L475.06,142.78 L476.32,144.34 L477.9,145.6 M477.9,145.6 L478.67,147.66 L478.91,149.89 L480.24,151.78 L480.5,154 M480.5,154 L480.31,156.02 L479.47,157.94 L479.6,160 M479.6,160 L478.07,161.52 L476.2,162.6 M476.2,162.6 L475.11,164.18 L474.54,166.02 L474.18,167.97 L472.8,169.4 M472.8,169.4 L470.3,170.3 M470.3,170.3 L468.94,169.02 L467.67,167.67 L466.8,166 M466.8,166 L465.39,164.48 L464.62,162.54 L463.4,160.9 M463.4,160.9 L462.4,159.36 L460.9,158.3 M460.9,158.3 L459.23,159.64 L457.5,160.9 M457.5,160.9 L455.86,161.69 L454.11,162.19 L452.39,162.74 L450.7,163.4 M450.7,163.4 L448.55,163.8 L446.31,163.81 L444.17,164.27 L442.1,165.1 M442.1,165.1 L440.32,164.69 L438.53,164.32 L436.97,163.3 L435.3,162.6 M435.3,162.6 L433.01,162.45 L430.78,161.93 L428.5,161.7 M428.5,161.7 L426.51,160.91 L424.48,160.34 L422.2,160.97 L420.25,160 M420.25,160 L418.58,161.35 L417.6,163.22 L416.5,165 M416.5,165 L415.9,166.78 L415.27,168.55 L414,170 M414,170 L413.72,172.13 L414.45,174.16 L415.02,176.21 L414.42,178.37 L414.59,180.46 L415.25,182.5 M415.25,182.5 L413.07,181.7 L411.5,180 M411.5,180 L409.63,181.26 L407.75,182.5 M407.75,182.5 L406.27,180.87 L404.52,179.62 L402.74,178.42 L400.92,177.26 L399,176.25 M399,176.25 L397.06,175.07 L394.93,174.35 L392.75,173.75 M392.75,173.75 L390.54,173.95 L388.65,174.98 L386.78,176.07 L384.62,176.39 L382.75,177.5 M382.75,177.5 L381.45,178.93 L381.38,180.98 L380.25,182.5 M380.25,182.5 L380.58,184.42 L382.41,185.59 L382.75,187.5 M382.75,187.5 L382.63,189.52 L382.16,191.49 L381.62,193.45 L381.41,195.46 L381.5,197.5 M381.5,197.5 L379.96,198.58 L378.14,199.12 L376.57,200.14 L374.82,200.8 L372.93,201.19 L371.5,202.5 M371.5,202.5 L370.78,204.19 L369.52,205.52 L368.97,207.31 L367.84,208.73 L366.5,210 M278.2,316.8 L276.56,317.89 L275.34,319.4 L274.1,320.9 M274.1,320.9 L272.13,320.83 L270.17,321.02 L268.21,321.04 L266.25,321.25 M266.25,321.25 L264.38,321.18 L262.66,320.58 L261.02,319.67 L259.22,319.35 L257.5,318.75 M257.5,318.75 L256.73,320.4 L255.06,321.45 L254.07,322.96 L253.28,324.6 L252.5,326.25 M252.5,326.25 L250.54,326.89 L248.63,327.77 L246.56,328 L244.44,328.02 L242.5,328.75 M242.5,328.75 L239.88,328.61 L237.5,327.5 M237.5,327.5 L236.12,325.55 L233.76,324.58 L232.5,322.5 M366.5,210 L365.68,212.01 L366.43,214.22 L365.5,216.22 L365.38,218.32 L364.82,220.37 L365,222.5 M365,222.5 L365.24,224.47 L364.56,226.28 L363.53,228.04 L363.75,230 M363.75,230 L365.29,231.35 L366.07,233.19 L367.24,234.77 L367.66,236.83 L368.72,238.48 L370,240 M370,240 L370.59,241.94 L369.66,243.89 L369.45,245.83 L370.25,247.78 L370.1,249.72 L369.74,251.67 L369.58,253.61 L369.57,255.56 L370,257.5 M370,257.5 L369.36,259.39 L369.39,261.38 L368.8,263.28 L369.35,265.34 L368.3,267.18 L368.87,269.24 L368.51,271.18 L368.15,273.11 L367.5,275 M367.5,275 L368.85,276.58 L369.49,278.69 L371.2,280 M371.2,280 L371.1,282.19 L369.45,283.92 L369.03,286.01 L368.85,288.18 L368.2,290.2 M368.2,290.2 L367.46,291.93 L365.81,293.05 L365.57,295.11 L364.02,296.29 L363.1,297.9 L362.19,299.52 L361.21,301.09 L360,302.5 M360,302.5 L358.74,304.21 L358,306.2 L356.79,307.94 L355.6,309.68 L354.9,311.7 M354.9,311.7 L356.17,313.92 L357.9,315.8 M357.9,315.8 L358.12,317.84 L357.77,319.89 L358.19,321.93 L357.89,323.97 L358.08,326.01 L357.75,328.06 L357.9,330.1 M357.9,330.1 L359.81,331.25 L361.96,331.67 L364.1,332.1 M364.1,332.1 L363.75,333.94 L363.67,335.78 L363.86,337.62 L364.62,339.46 L364.1,341.3 M364.1,341.3 L362.03,341.2 L359.98,341.43 L357.96,341.98 L355.88,341.82 L353.9,342.78 L351.8,342.4 M351.8,342.4 L349.85,343.32 L347.7,343.4 M347.7,343.4 L345.75,342.53 L343.69,342.2 L341.47,342.67 L339.54,341.72 L337.5,341.3 M337.5,341.3 L335.38,341.55 L333.33,342.08 L331.41,343.12 L329.3,343.4 M329.3,343.4 L329.55,345.34 L328.9,347.22 L328.59,349.12 L328.4,351.02 L328.13,352.93 L328.28,354.86 L329.02,356.83 L328.3,358.7 M328.3,358.7 L326.43,357.33 L324.2,356.7 M324.2,356.7 L322.46,355.75 L321.36,354.05 L319.8,352.89 L317.9,352.13 L317.06,350.13 L315.04,349.51 L314.17,347.54 L312.25,346.81 L310.9,345.4 M310.9,345.4 L310.73,348.06 L309.9,350.6 M309.9,350.6 L307.85,350.31 L305.8,350.6 M305.8,350.6 L304.91,348.81 L303.27,347.46 L302.97,345.32 L301.51,343.87 L300.5,342.14 L299.7,340.3 M299.7,340.3 L298.83,338.56 L298.44,336.72 L298.13,334.85 L297.78,333 L297.6,331.1 M297.6,331.1 L297.6,328.93 L296.43,327.04 L296.22,324.92 L295.6,322.9 M295.6,322.9 L293.81,322.37 L292.04,321.76 L290.14,321.61 L288.4,320.9 M288.4,320.9 L286.82,319.92 L284.97,319.61 L283.41,318.58 L281.39,318.69 L280.05,317.11 L278.2,316.8 M189.5,300 L191.15,298.47 L192,296.29 L193.7,294.8 M193.7,294.8 L193.88,292.86 L194.86,291.05 L194.47,289.02 L194.58,287.07 L195.78,285.3 L195.6,283.3 M195.6,283.3 L195.52,281.35 L195.57,279.4 L196.35,277.52 L195.85,275.53 L196.52,273.64 L196.6,271.7 M232.5,322.5 L231.55,324.27 L230.95,326.15 L230.3,328.02 L230,330 M230,330 L227.97,331.3 L226.43,333.1 L225,335 M225,335 L224.58,337.02 L223.46,338.87 L223.82,341.08 L223.45,343.11 L222.5,345 M222.5,345 L220.6,346.43 L219.12,348.28 L217.5,350 M217.5,350 L217.35,352.62 L216.25,355 M216.25,355 L217.09,356.97 L218.1,358.87 L218.98,360.82 L219.59,362.87 L220,365 M220,365 L221.02,366.6 L220.5,368.64 L222.02,370.1 L221.61,372.11 L222.5,373.75 M222.5,373.75 L220.92,375.12 L218.85,375.83 L217.5,377.5 M217.5,377.5 L218.79,379.21 L220.79,380.21 L221.9,382.1 L223.83,383.17 L225,385 M225,385 L223.06,384.42 L221.6,382.88 L219.66,382.3 L217.88,381.38 L215.8,381.07 L214.44,379.34 L212.5,378.75 M212.5,378.75 L210.42,379.29 L208.33,378.76 L206.25,378.64 L204.17,379 L202.08,378.57 L200,378.75 M200,378.75 L198.33,379.58 L196.5,380.09 L195,381.25 M195,381.25 L193.42,382.43 L191.86,383.64 L189.71,383.91 L188.2,385.2 L186.47,386.14 L185,387.5 M185,387.5 L183.25,388.13 L182.07,389.6 L180.49,390.48 L179.11,391.67 L177.5,392.5 M177.5,392.5 L176.16,393.77 L175.76,395.68 L174.88,397.25 L173.48,398.49 L172.5,400 M172.5,400 L172.6,401.99 L171.09,403.62 L170.68,405.5 L170.8,407.49 L170.84,409.47 L170,411.25 M170,411.25 L168.16,411.84 L166.21,411.12 L164.38,411.75 L162.51,411.94 L160.65,412.3 L158.75,412.17 L156.89,412.57 L155,412.5 M155,412.5 L153.11,412.73 L151.16,412.61 L149.33,413.16 L147.53,413.94 L145.56,413.67 L143.84,414.94 L141.81,414.29 L140,415 M140,415 L138.04,415.32 L136.11,415.99 L134.11,415.95 L132.1,415.9 M132.1,415.9 L130.89,413.75 L130.6,411.3 M130.6,411.3 L129.53,409.77 L128.39,408.31 L126.7,407.4 L125.43,406.07 L124.4,404.5 L122.76,403.54 L121.43,402.27 L120.55,400.55 L119.15,399.35 L117.57,398.33 L116.06,397.24 L115.42,395.28 L113.7,394.4 M113.7,394.4 L112.25,393.12 L110.86,391.79 L109.4,390.52 L108.12,389.09 L107.32,387.21 L105.52,386.26 L104.81,384.3 L103.43,382.95 L101.9,381.76 L100.57,380.36 L99.14,379.07 L98.18,377.34 L96.8,376 M96.8,376 L95.43,374.79 L94.38,373.24 L92.38,372.71 L91.68,370.76 L90.27,369.61 L88.95,368.34 L87.55,367.16 L86.05,366.1 L84.95,364.59 L83.2,363.79 L81.89,362.52 L80.68,361.13 L79.66,359.54 L78.18,358.45 L76.6,357.47 L74.97,356.54 L74.23,354.65 L72.5,353.84 L71.33,352.41 L69.5,351.7 L68.71,349.86 L67.2,348.8 M67.2,348.8 L68.89,349.53 L70.8,349.3 L72.5,350 M72.5,350 L74.61,350.46 L76.68,351.01 L78.32,352.72 L80.41,353.24 L82.5,353.75 M82.5,353.75 L84.51,354.44 L86.55,355.06 L88.59,355.67 L90.7,356 M90.7,356 L91.46,357.84 L93.21,359.01 L93.83,360.94 L95,362.5 M95,362.5 L96.49,364.1 L98.5,365.1 L99.9,366.8 M99.9,366.8 L101.88,366.9 L103.57,368.05 L105.65,367.79 L107.49,368.39 L109.11,369.81 L111.18,369.56 L113.01,370.21 L114.93,370.54 L116.7,371.4 M116.7,371.4 L118.49,370.39 L120.65,370.57 L122.26,369 L124.44,369.24 L126.17,368.04 L128.1,367.48 L130.25,367.61 L132,366.5 M132,366.5 L133.46,365.29 L135.57,365.53 L137.1,364.48 L138.65,363.47 L140.42,362.94 L142,362 M142,362 L143.97,361.07 L145.89,360 L148.21,359.84 L150,358.5 M150,358.5 L151.44,356.75 L153.19,355.34 L155,354 M155,354 L156.29,352.36 L157.75,350.85 L158.75,349 M158.75,349 L158.76,346.76 L159.92,344.73 L160,342.5 M160,342.5 L161.9,341.4 L163.03,339.53 L164.6,338.1 L166.21,336.71 L167.5,335 M167.5,335 L167.96,332.99 L168.02,330.88 L169.41,329.1 L170.04,327.14 L170,325 M170,325 L170.87,323.21 L170.73,321.08 L172.15,319.47 L172.5,317.5 M172.5,317.5 L174.29,316.29 L175.13,314.13 L176.58,312.58 L178.47,311.47 L180,310 M180,310 L180.71,308.08 L182.02,306.51 L183.05,304.78 L184.33,303.19 L185,301.25 M185,301.25 L187.34,300.95 L189.5,300"/>
<text x="410.4" y="232.9" font-size="9.5" fill="#0d0d26" stroke="#0d0d26" stroke-width="0.1" textLength="75.1" lengthAdjust="spacingAndGlyphs">Percentage change</text>
<g stroke="#000" stroke-width="1.3">
<rect x="410.6" y="241.6" width="7.8" height="8.3" fill="#E03800"/>
<rect x="410.6" y="252.4" width="7.8" height="8.3" fill="#F07230"/>
<rect x="410.6" y="263.2" width="7.8" height="8.3" fill="#F0A262"/>
<rect x="410.6" y="274.0" width="7.8" height="8.3" fill="#F8D080"/>
<rect x="410.6" y="284.8" width="7.8" height="8.3" fill="#F5F5B0"/>
</g>
<g font-size="9.5" fill="#0d0d26" stroke="#0d0d26" stroke-width="0.1">
<text x="425.6" y="248.6" textLength="53.1" lengthAdjust="spacingAndGlyphs">19.2 or more</text>
<text x="425.6" y="259.4" textLength="48.6" lengthAdjust="spacingAndGlyphs">12.5 &#8211; 19.2</text>
<text x="431.7" y="270.2" textLength="42.5" lengthAdjust="spacingAndGlyphs">7.7 &#8211; 12.5</text>
<text x="431.7" y="281.0">0</text>
<text x="447.4" y="281.0">&#8211;</text>
<text x="460.3" y="281.0" textLength="13.6" lengthAdjust="spacingAndGlyphs">7.7</text>
<text x="425.6" y="291.8" textLength="62.9" lengthAdjust="spacingAndGlyphs">Negative growth</text>
</g>
<g font-size="9.3" fill="#0d0d26" stroke="#0d0d26" stroke-width="0.1">
<text x="368.2" y="357.7" textLength="206.4" lengthAdjust="spacingAndGlyphs">(a) The majority of the Yarra Ranges (S) LGA is in the</text>
<text x="382.5" y="368.4" textLength="192.1" lengthAdjust="spacingAndGlyphs">Melbourne Statistical Division (SD). However, the</text>
<text x="369.4" y="379.4" textLength="206.2" lengthAdjust="spacingAndGlyphs">Yarra Ranges (S) &#8212; Pt B SLA is in the Gippsland SD.</text>
<text x="381.3" y="390.2" textLength="194.3" lengthAdjust="spacingAndGlyphs">The whole of Yarra Ranges (S) has been included.</text>
<text x="409.8" y="411.0" textLength="164.6" lengthAdjust="spacingAndGlyphs">Local Government Area Boundaries, 2008</text>
<text x="381.7" y="421.7" textLength="192.7" lengthAdjust="spacingAndGlyphs">Source: Births, Australia, 2008 (cat. no. 3301.0)</text>
</g>
<g font-size="9.5" fill="#0d0d26" stroke="#0d0d26" stroke-width="0.1">
<text x="20.2" y="390.9" textLength="5.4" lengthAdjust="spacingAndGlyphs">0</text>
<text x="79.5" y="390.9" textLength="11.1" lengthAdjust="spacingAndGlyphs">20</text>
<text x="34.6" y="413.7" textLength="40.4" lengthAdjust="spacingAndGlyphs">Kilometres</text>
</g>
<g stroke="#000" stroke-width="1.1" fill="none">
<path d="M23.5,394.8 V398.9 H85.5 V394.8 M54.5,398.9 V396.6"/>
</g>
</svg>
</body></html>
